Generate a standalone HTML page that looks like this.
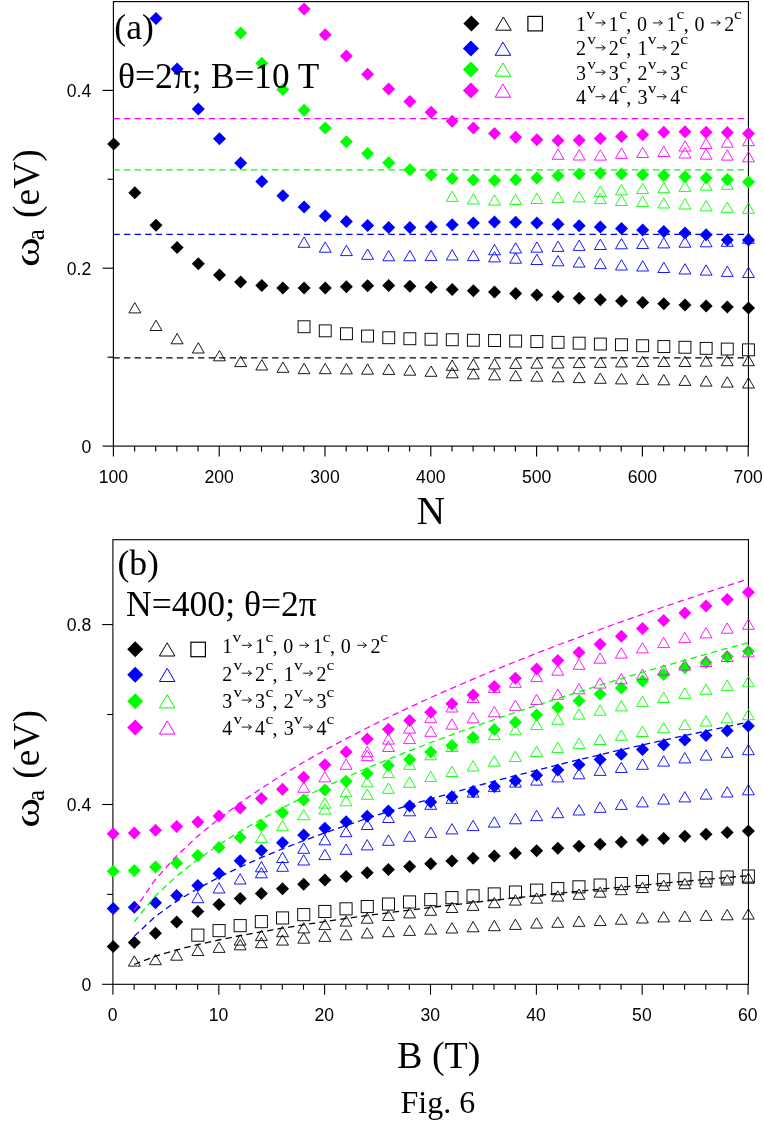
<!DOCTYPE html>
<html><head><meta charset="utf-8"><title>Fig. 6</title>
<style>html,body{margin:0;padding:0;background:#fff}svg{display:block;will-change:transform}text{fill:#000}</style>
</head><body>
<svg width="764" height="1121" viewBox="0 0 764 1121">
<rect width="764" height="1121" fill="#fff"/>
<defs><clipPath id="ca"><rect x="105.3" y="1.6" width="651.2" height="452.5"/></clipPath></defs>
<rect x="113.4" y="1.6" width="635.0500000000001" height="444.5" fill="none" stroke="#000" stroke-width="1.15"/>
<g clip-path="url(#ca)">
<path d="M113.7 137.4L120.2 143.9L113.7 150.4L107.2 143.9Z" fill="#000000"/>
<path d="M134.8 186.3L141.3 192.8L134.8 199.3L128.3 192.8Z" fill="#000000"/>
<path d="M156.0 218.8L162.5 225.3L156.0 231.8L149.5 225.3Z" fill="#000000"/>
<path d="M177.1 240.9L183.6 247.4L177.1 253.9L170.6 247.4Z" fill="#000000"/>
<path d="M198.3 257.3L204.8 263.8L198.3 270.3L191.8 263.8Z" fill="#000000"/>
<path d="M219.5 268.5L226.0 275.0L219.5 281.5L213.0 275.0Z" fill="#000000"/>
<path d="M240.6 275.6L247.1 282.1L240.6 288.6L234.1 282.1Z" fill="#000000"/>
<path d="M261.8 279.0L268.3 285.5L261.8 292.0L255.3 285.5Z" fill="#000000"/>
<path d="M282.9 281.6L289.4 288.1L282.9 294.6L276.4 288.1Z" fill="#000000"/>
<path d="M304.1 281.6L310.6 288.1L304.1 294.6L297.6 288.1Z" fill="#000000"/>
<path d="M325.2 281.6L331.8 288.1L325.2 294.6L318.8 288.1Z" fill="#000000"/>
<path d="M346.4 280.3L352.9 286.8L346.4 293.3L339.9 286.8Z" fill="#000000"/>
<path d="M367.6 279.2L374.1 285.7L367.6 292.2L361.1 285.7Z" fill="#000000"/>
<path d="M388.7 279.0L395.2 285.5L388.7 292.0L382.2 285.5Z" fill="#000000"/>
<path d="M409.9 279.8L416.4 286.3L409.9 292.8L403.4 286.3Z" fill="#000000"/>
<path d="M431.1 280.8L437.6 287.3L431.1 293.8L424.6 287.3Z" fill="#000000"/>
<path d="M452.2 282.9L458.7 289.4L452.2 295.9L445.7 289.4Z" fill="#000000"/>
<path d="M473.4 284.2L479.9 290.7L473.4 297.2L466.9 290.7Z" fill="#000000"/>
<path d="M494.5 285.5L501.0 292.0L494.5 298.5L488.0 292.0Z" fill="#000000"/>
<path d="M515.7 287.1L522.2 293.6L515.7 300.1L509.2 293.6Z" fill="#000000"/>
<path d="M536.9 288.4L543.4 294.9L536.9 301.4L530.4 294.9Z" fill="#000000"/>
<path d="M558.0 290.2L564.5 296.7L558.0 303.2L551.5 296.7Z" fill="#000000"/>
<path d="M579.2 291.8L585.7 298.3L579.2 304.8L572.7 298.3Z" fill="#000000"/>
<path d="M600.3 293.3L606.8 299.8L600.3 306.3L593.8 299.8Z" fill="#000000"/>
<path d="M621.5 294.6L628.0 301.1L621.5 307.6L615.0 301.1Z" fill="#000000"/>
<path d="M642.7 295.9L649.2 302.4L642.7 308.9L636.2 302.4Z" fill="#000000"/>
<path d="M663.8 297.3L670.3 303.8L663.8 310.3L657.3 303.8Z" fill="#000000"/>
<path d="M685.0 298.6L691.5 305.1L685.0 311.6L678.5 305.1Z" fill="#000000"/>
<path d="M706.1 299.5L712.6 306.0L706.1 312.5L699.6 306.0Z" fill="#000000"/>
<path d="M727.3 300.6L733.8 307.1L727.3 313.6L720.8 307.1Z" fill="#000000"/>
<path d="M748.5 301.6L755.0 308.1L748.5 314.6L742.0 308.1Z" fill="#000000"/>
<path d="M134.8 302.6L140.8 312.9L128.9 312.9Z" fill="none" stroke="#000000" stroke-width="0.9"/>
<path d="M156.0 320.2L161.9 330.5L150.0 330.5Z" fill="none" stroke="#000000" stroke-width="0.9"/>
<path d="M177.1 333.5L183.1 343.8L171.2 343.8Z" fill="none" stroke="#000000" stroke-width="0.9"/>
<path d="M198.3 342.7L204.2 353.0L192.3 353.0Z" fill="none" stroke="#000000" stroke-width="0.9"/>
<path d="M219.5 350.5L225.4 360.8L213.5 360.8Z" fill="none" stroke="#000000" stroke-width="0.9"/>
<path d="M240.6 356.3L246.6 366.6L234.7 366.6Z" fill="none" stroke="#000000" stroke-width="0.9"/>
<path d="M261.8 359.7L267.7 370.0L255.8 370.0Z" fill="none" stroke="#000000" stroke-width="0.9"/>
<path d="M282.9 362.0L288.9 372.3L277.0 372.3Z" fill="none" stroke="#000000" stroke-width="0.9"/>
<path d="M304.1 363.4L310.0 373.7L298.1 373.7Z" fill="none" stroke="#000000" stroke-width="0.9"/>
<path d="M325.2 363.4L331.2 373.7L319.3 373.7Z" fill="none" stroke="#000000" stroke-width="0.9"/>
<path d="M346.4 363.6L352.4 373.9L340.5 373.9Z" fill="none" stroke="#000000" stroke-width="0.9"/>
<path d="M367.6 363.9L373.5 374.2L361.6 374.2Z" fill="none" stroke="#000000" stroke-width="0.9"/>
<path d="M388.7 364.1L394.7 374.4L382.8 374.4Z" fill="none" stroke="#000000" stroke-width="0.9"/>
<path d="M409.9 364.9L415.8 375.2L403.9 375.2Z" fill="none" stroke="#000000" stroke-width="0.9"/>
<path d="M431.1 366.0L437.0 376.3L425.1 376.3Z" fill="none" stroke="#000000" stroke-width="0.9"/>
<path d="M452.2 367.5L458.2 377.8L446.3 377.8Z" fill="none" stroke="#000000" stroke-width="0.9"/>
<path d="M473.4 368.6L479.3 378.9L467.4 378.9Z" fill="none" stroke="#000000" stroke-width="0.9"/>
<path d="M494.5 369.6L500.5 379.9L488.6 379.9Z" fill="none" stroke="#000000" stroke-width="0.9"/>
<path d="M515.7 370.4L521.6 380.7L509.7 380.7Z" fill="none" stroke="#000000" stroke-width="0.9"/>
<path d="M536.9 370.9L542.8 381.2L530.9 381.2Z" fill="none" stroke="#000000" stroke-width="0.9"/>
<path d="M558.0 371.5L564.0 381.8L552.1 381.8Z" fill="none" stroke="#000000" stroke-width="0.9"/>
<path d="M579.2 372.3L585.1 382.6L573.2 382.6Z" fill="none" stroke="#000000" stroke-width="0.9"/>
<path d="M600.3 373.0L606.3 383.3L594.4 383.3Z" fill="none" stroke="#000000" stroke-width="0.9"/>
<path d="M621.5 373.6L627.4 383.9L615.5 383.9Z" fill="none" stroke="#000000" stroke-width="0.9"/>
<path d="M642.7 374.1L648.6 384.4L636.7 384.4Z" fill="none" stroke="#000000" stroke-width="0.9"/>
<path d="M663.8 374.5L669.8 384.8L657.9 384.8Z" fill="none" stroke="#000000" stroke-width="0.9"/>
<path d="M685.0 375.1L690.9 385.4L679.0 385.4Z" fill="none" stroke="#000000" stroke-width="0.9"/>
<path d="M706.1 375.8L712.1 386.1L700.2 386.1Z" fill="none" stroke="#000000" stroke-width="0.9"/>
<path d="M727.3 376.8L733.2 387.1L721.3 387.1Z" fill="none" stroke="#000000" stroke-width="0.9"/>
<path d="M748.5 377.7L754.4 388.0L742.5 388.0Z" fill="none" stroke="#000000" stroke-width="0.9"/>
<path d="M452.2 360.0L458.2 370.3L446.3 370.3Z" fill="none" stroke="#000000" stroke-width="0.9"/>
<path d="M473.4 359.0L479.3 369.3L467.4 369.3Z" fill="none" stroke="#000000" stroke-width="0.9"/>
<path d="M494.5 358.6L500.5 368.9L488.6 368.9Z" fill="none" stroke="#000000" stroke-width="0.9"/>
<path d="M515.7 358.1L521.6 368.4L509.7 368.4Z" fill="none" stroke="#000000" stroke-width="0.9"/>
<path d="M536.9 357.9L542.8 368.2L530.9 368.2Z" fill="none" stroke="#000000" stroke-width="0.9"/>
<path d="M558.0 357.6L564.0 367.9L552.1 367.9Z" fill="none" stroke="#000000" stroke-width="0.9"/>
<path d="M579.2 357.3L585.1 367.6L573.2 367.6Z" fill="none" stroke="#000000" stroke-width="0.9"/>
<path d="M600.3 357.1L606.3 367.4L594.4 367.4Z" fill="none" stroke="#000000" stroke-width="0.9"/>
<path d="M621.5 356.6L627.4 366.9L615.5 366.9Z" fill="none" stroke="#000000" stroke-width="0.9"/>
<path d="M642.7 356.2L648.6 366.5L636.7 366.5Z" fill="none" stroke="#000000" stroke-width="0.9"/>
<path d="M663.8 356.2L669.8 366.5L657.9 366.5Z" fill="none" stroke="#000000" stroke-width="0.9"/>
<path d="M685.0 356.2L690.9 366.5L679.0 366.5Z" fill="none" stroke="#000000" stroke-width="0.9"/>
<path d="M706.1 355.8L712.1 366.1L700.2 366.1Z" fill="none" stroke="#000000" stroke-width="0.9"/>
<path d="M727.3 355.4L733.2 365.7L721.3 365.7Z" fill="none" stroke="#000000" stroke-width="0.9"/>
<path d="M748.5 355.4L754.4 365.7L742.5 365.7Z" fill="none" stroke="#000000" stroke-width="0.9"/>
<rect x="298.1" y="320.8" width="11.9" height="11.9" fill="none" stroke="#000000" stroke-width="0.95"/>
<rect x="319.3" y="324.9" width="11.9" height="11.9" fill="none" stroke="#000000" stroke-width="0.95"/>
<rect x="340.5" y="327.8" width="11.9" height="11.9" fill="none" stroke="#000000" stroke-width="0.95"/>
<rect x="361.6" y="330.1" width="11.9" height="11.9" fill="none" stroke="#000000" stroke-width="0.95"/>
<rect x="382.8" y="331.8" width="11.9" height="11.9" fill="none" stroke="#000000" stroke-width="0.95"/>
<rect x="403.9" y="332.8" width="11.9" height="11.9" fill="none" stroke="#000000" stroke-width="0.95"/>
<rect x="425.1" y="333.3" width="11.9" height="11.9" fill="none" stroke="#000000" stroke-width="0.95"/>
<rect x="446.3" y="333.8" width="11.9" height="11.9" fill="none" stroke="#000000" stroke-width="0.95"/>
<rect x="467.4" y="334.3" width="11.9" height="11.9" fill="none" stroke="#000000" stroke-width="0.95"/>
<rect x="488.6" y="334.6" width="11.9" height="11.9" fill="none" stroke="#000000" stroke-width="0.95"/>
<rect x="509.7" y="335.1" width="11.9" height="11.9" fill="none" stroke="#000000" stroke-width="0.95"/>
<rect x="530.9" y="335.6" width="11.9" height="11.9" fill="none" stroke="#000000" stroke-width="0.95"/>
<rect x="552.1" y="336.4" width="11.9" height="11.9" fill="none" stroke="#000000" stroke-width="0.95"/>
<rect x="573.2" y="337.2" width="11.9" height="11.9" fill="none" stroke="#000000" stroke-width="0.95"/>
<rect x="594.4" y="338.1" width="11.9" height="11.9" fill="none" stroke="#000000" stroke-width="0.95"/>
<rect x="615.5" y="338.8" width="11.9" height="11.9" fill="none" stroke="#000000" stroke-width="0.95"/>
<rect x="636.7" y="339.8" width="11.9" height="11.9" fill="none" stroke="#000000" stroke-width="0.95"/>
<rect x="657.9" y="340.6" width="11.9" height="11.9" fill="none" stroke="#000000" stroke-width="0.95"/>
<rect x="679.0" y="341.3" width="11.9" height="11.9" fill="none" stroke="#000000" stroke-width="0.95"/>
<rect x="700.2" y="342.4" width="11.9" height="11.9" fill="none" stroke="#000000" stroke-width="0.95"/>
<rect x="721.3" y="343.1" width="11.9" height="11.9" fill="none" stroke="#000000" stroke-width="0.95"/>
<rect x="742.5" y="343.9" width="11.9" height="11.9" fill="none" stroke="#000000" stroke-width="0.95"/>
<path d="M156.0 12.0L162.5 18.5L156.0 25.0L149.5 18.5Z" fill="#0000ff"/>
<path d="M177.1 62.4L183.6 68.9L177.1 75.4L170.6 68.9Z" fill="#0000ff"/>
<path d="M198.3 102.4L204.8 108.9L198.3 115.4L191.8 108.9Z" fill="#0000ff"/>
<path d="M219.5 132.3L226.0 138.8L219.5 145.3L213.0 138.8Z" fill="#0000ff"/>
<path d="M240.6 156.5L247.1 163.0L240.6 169.5L234.1 163.0Z" fill="#0000ff"/>
<path d="M261.8 175.1L268.3 181.6L261.8 188.1L255.3 181.6Z" fill="#0000ff"/>
<path d="M282.9 189.2L289.4 195.7L282.9 202.2L276.4 195.7Z" fill="#0000ff"/>
<path d="M304.1 200.4L310.6 206.9L304.1 213.4L297.6 206.9Z" fill="#0000ff"/>
<path d="M325.2 209.4L331.8 215.9L325.2 222.4L318.8 215.9Z" fill="#0000ff"/>
<path d="M346.4 215.1L352.9 221.6L346.4 228.1L339.9 221.6Z" fill="#0000ff"/>
<path d="M367.6 218.9L374.1 225.4L367.6 231.9L361.1 225.4Z" fill="#0000ff"/>
<path d="M388.7 221.0L395.2 227.5L388.7 234.0L382.2 227.5Z" fill="#0000ff"/>
<path d="M409.9 221.0L416.4 227.5L409.9 234.0L403.4 227.5Z" fill="#0000ff"/>
<path d="M431.1 220.2L437.6 226.7L431.1 233.2L424.6 226.7Z" fill="#0000ff"/>
<path d="M452.2 218.3L458.7 224.8L452.2 231.3L445.7 224.8Z" fill="#0000ff"/>
<path d="M473.4 216.6L479.9 223.1L473.4 229.6L466.9 223.1Z" fill="#0000ff"/>
<path d="M494.5 215.4L501.0 221.9L494.5 228.4L488.0 221.9Z" fill="#0000ff"/>
<path d="M515.7 215.7L522.2 222.2L515.7 228.7L509.2 222.2Z" fill="#0000ff"/>
<path d="M536.9 216.6L543.4 223.1L536.9 229.6L530.4 223.1Z" fill="#0000ff"/>
<path d="M558.0 217.8L564.5 224.3L558.0 230.8L551.5 224.3Z" fill="#0000ff"/>
<path d="M579.2 219.2L585.7 225.7L579.2 232.2L572.7 225.7Z" fill="#0000ff"/>
<path d="M600.3 220.5L606.8 227.0L600.3 233.5L593.8 227.0Z" fill="#0000ff"/>
<path d="M621.5 222.0L628.0 228.5L621.5 235.0L615.0 228.5Z" fill="#0000ff"/>
<path d="M642.7 223.6L649.2 230.1L642.7 236.6L636.2 230.1Z" fill="#0000ff"/>
<path d="M663.8 225.1L670.3 231.6L663.8 238.1L657.3 231.6Z" fill="#0000ff"/>
<path d="M685.0 226.5L691.5 233.0L685.0 239.5L678.5 233.0Z" fill="#0000ff"/>
<path d="M706.1 228.3L712.6 234.8L706.1 241.3L699.6 234.8Z" fill="#0000ff"/>
<path d="M727.3 233.5L733.8 240.0L727.3 246.5L720.8 240.0Z" fill="#0000ff"/>
<path d="M748.5 233.4L755.0 239.9L748.5 246.4L742.0 239.9Z" fill="#0000ff"/>
<path d="M304.1 237.0L310.0 247.3L298.1 247.3Z" fill="none" stroke="#0000ff" stroke-width="0.9"/>
<path d="M325.2 241.9L331.2 252.2L319.3 252.2Z" fill="none" stroke="#0000ff" stroke-width="0.9"/>
<path d="M346.4 245.3L352.4 255.6L340.5 255.6Z" fill="none" stroke="#0000ff" stroke-width="0.9"/>
<path d="M367.6 249.0L373.5 259.3L361.6 259.3Z" fill="none" stroke="#0000ff" stroke-width="0.9"/>
<path d="M388.7 250.5L394.7 260.8L382.8 260.8Z" fill="none" stroke="#0000ff" stroke-width="0.9"/>
<path d="M409.9 250.5L415.8 260.8L403.9 260.8Z" fill="none" stroke="#0000ff" stroke-width="0.9"/>
<path d="M431.1 250.3L437.0 260.6L425.1 260.6Z" fill="none" stroke="#0000ff" stroke-width="0.9"/>
<path d="M452.2 249.7L458.2 260.0L446.3 260.0Z" fill="none" stroke="#0000ff" stroke-width="0.9"/>
<path d="M473.4 250.3L479.3 260.6L467.4 260.6Z" fill="none" stroke="#0000ff" stroke-width="0.9"/>
<path d="M494.5 251.6L500.5 261.9L488.6 261.9Z" fill="none" stroke="#0000ff" stroke-width="0.9"/>
<path d="M515.7 252.9L521.6 263.2L509.7 263.2Z" fill="none" stroke="#0000ff" stroke-width="0.9"/>
<path d="M536.9 254.2L542.8 264.5L530.9 264.5Z" fill="none" stroke="#0000ff" stroke-width="0.9"/>
<path d="M558.0 255.5L564.0 265.8L552.1 265.8Z" fill="none" stroke="#0000ff" stroke-width="0.9"/>
<path d="M579.2 256.8L585.1 267.1L573.2 267.1Z" fill="none" stroke="#0000ff" stroke-width="0.9"/>
<path d="M600.3 258.3L606.3 268.6L594.4 268.6Z" fill="none" stroke="#0000ff" stroke-width="0.9"/>
<path d="M621.5 259.7L627.4 270.0L615.5 270.0Z" fill="none" stroke="#0000ff" stroke-width="0.9"/>
<path d="M642.7 260.7L648.6 271.0L636.7 271.0Z" fill="none" stroke="#0000ff" stroke-width="0.9"/>
<path d="M663.8 262.2L669.8 272.5L657.9 272.5Z" fill="none" stroke="#0000ff" stroke-width="0.9"/>
<path d="M685.0 263.7L690.9 274.0L679.0 274.0Z" fill="none" stroke="#0000ff" stroke-width="0.9"/>
<path d="M706.1 264.8L712.1 275.1L700.2 275.1Z" fill="none" stroke="#0000ff" stroke-width="0.9"/>
<path d="M727.3 266.1L733.2 276.4L721.3 276.4Z" fill="none" stroke="#0000ff" stroke-width="0.9"/>
<path d="M748.5 267.2L754.4 277.5L742.5 277.5Z" fill="none" stroke="#0000ff" stroke-width="0.9"/>
<path d="M494.5 244.5L500.5 254.8L488.6 254.8Z" fill="none" stroke="#0000ff" stroke-width="0.9"/>
<path d="M515.7 242.7L521.6 253.0L509.7 253.0Z" fill="none" stroke="#0000ff" stroke-width="0.9"/>
<path d="M536.9 241.9L542.8 252.2L530.9 252.2Z" fill="none" stroke="#0000ff" stroke-width="0.9"/>
<path d="M558.0 241.1L564.0 251.4L552.1 251.4Z" fill="none" stroke="#0000ff" stroke-width="0.9"/>
<path d="M579.2 240.1L585.1 250.4L573.2 250.4Z" fill="none" stroke="#0000ff" stroke-width="0.9"/>
<path d="M600.3 239.2L606.3 249.5L594.4 249.5Z" fill="none" stroke="#0000ff" stroke-width="0.9"/>
<path d="M621.5 238.5L627.4 248.8L615.5 248.8Z" fill="none" stroke="#0000ff" stroke-width="0.9"/>
<path d="M642.7 238.2L648.6 248.5L636.7 248.5Z" fill="none" stroke="#0000ff" stroke-width="0.9"/>
<path d="M663.8 237.6L669.8 247.9L657.9 247.9Z" fill="none" stroke="#0000ff" stroke-width="0.9"/>
<path d="M685.0 236.9L690.9 247.2L679.0 247.2Z" fill="none" stroke="#0000ff" stroke-width="0.9"/>
<path d="M706.1 236.5L712.1 246.8L700.2 246.8Z" fill="none" stroke="#0000ff" stroke-width="0.9"/>
<path d="M727.3 236.0L733.2 246.3L721.3 246.3Z" fill="none" stroke="#0000ff" stroke-width="0.9"/>
<path d="M748.5 233.0L754.4 243.3L742.5 243.3Z" fill="none" stroke="#0000ff" stroke-width="0.9"/>
<path d="M240.6 26.4L247.1 32.9L240.6 39.4L234.1 32.9Z" fill="#00ff00"/>
<path d="M261.8 56.7L268.3 63.2L261.8 69.7L255.3 63.2Z" fill="#00ff00"/>
<path d="M282.9 82.9L289.4 89.4L282.9 95.9L276.4 89.4Z" fill="#00ff00"/>
<path d="M304.1 103.7L310.6 110.2L304.1 116.7L297.6 110.2Z" fill="#00ff00"/>
<path d="M325.2 121.5L331.8 128.0L325.2 134.5L318.8 128.0Z" fill="#00ff00"/>
<path d="M346.4 135.3L352.9 141.8L346.4 148.3L339.9 141.8Z" fill="#00ff00"/>
<path d="M367.6 147.0L374.1 153.5L367.6 160.0L361.1 153.5Z" fill="#00ff00"/>
<path d="M388.7 156.2L395.2 162.7L388.7 169.2L382.2 162.7Z" fill="#00ff00"/>
<path d="M409.9 163.3L416.4 169.8L409.9 176.3L403.4 169.8Z" fill="#00ff00"/>
<path d="M431.1 168.5L437.6 175.0L431.1 181.5L424.6 175.0Z" fill="#00ff00"/>
<path d="M452.2 171.9L458.7 178.4L452.2 184.9L445.7 178.4Z" fill="#00ff00"/>
<path d="M473.4 173.5L479.9 180.0L473.4 186.5L466.9 180.0Z" fill="#00ff00"/>
<path d="M494.5 174.0L501.0 180.5L494.5 187.0L488.0 180.5Z" fill="#00ff00"/>
<path d="M515.7 173.2L522.2 179.7L515.7 186.2L509.2 179.7Z" fill="#00ff00"/>
<path d="M536.9 171.4L543.4 177.9L536.9 184.4L530.4 177.9Z" fill="#00ff00"/>
<path d="M558.0 169.3L564.5 175.8L558.0 182.3L551.5 175.8Z" fill="#00ff00"/>
<path d="M579.2 167.5L585.7 174.0L579.2 180.5L572.7 174.0Z" fill="#00ff00"/>
<path d="M600.3 166.8L606.8 173.3L600.3 179.8L593.8 173.3Z" fill="#00ff00"/>
<path d="M621.5 167.5L628.0 174.0L621.5 180.5L615.0 174.0Z" fill="#00ff00"/>
<path d="M642.7 168.2L649.2 174.7L642.7 181.2L636.2 174.7Z" fill="#00ff00"/>
<path d="M663.8 169.0L670.3 175.5L663.8 182.0L657.3 175.5Z" fill="#00ff00"/>
<path d="M685.0 170.3L691.5 176.8L685.0 183.3L678.5 176.8Z" fill="#00ff00"/>
<path d="M706.1 171.6L712.6 178.1L706.1 184.6L699.6 178.1Z" fill="#00ff00"/>
<path d="M727.3 172.9L733.8 179.4L727.3 185.9L720.8 179.4Z" fill="#00ff00"/>
<path d="M748.5 175.5L755.0 182.0L748.5 188.5L742.0 182.0Z" fill="#00ff00"/>
<path d="M452.2 191.1L458.2 201.4L446.3 201.4Z" fill="none" stroke="#00ff00" stroke-width="0.9"/>
<path d="M473.4 193.7L479.3 204.0L467.4 204.0Z" fill="none" stroke="#00ff00" stroke-width="0.9"/>
<path d="M494.5 194.8L500.5 205.1L488.6 205.1Z" fill="none" stroke="#00ff00" stroke-width="0.9"/>
<path d="M515.7 194.2L521.6 204.5L509.7 204.5Z" fill="none" stroke="#00ff00" stroke-width="0.9"/>
<path d="M536.9 193.2L542.8 203.5L530.9 203.5Z" fill="none" stroke="#00ff00" stroke-width="0.9"/>
<path d="M558.0 192.1L564.0 202.4L552.1 202.4Z" fill="none" stroke="#00ff00" stroke-width="0.9"/>
<path d="M579.2 191.6L585.1 201.9L573.2 201.9Z" fill="none" stroke="#00ff00" stroke-width="0.9"/>
<path d="M600.3 193.3L606.3 203.6L594.4 203.6Z" fill="none" stroke="#00ff00" stroke-width="0.9"/>
<path d="M621.5 195.2L627.4 205.5L615.5 205.5Z" fill="none" stroke="#00ff00" stroke-width="0.9"/>
<path d="M642.7 196.2L648.6 206.5L636.7 206.5Z" fill="none" stroke="#00ff00" stroke-width="0.9"/>
<path d="M663.8 197.7L669.8 208.0L657.9 208.0Z" fill="none" stroke="#00ff00" stroke-width="0.9"/>
<path d="M685.0 198.7L690.9 209.0L679.0 209.0Z" fill="none" stroke="#00ff00" stroke-width="0.9"/>
<path d="M706.1 200.5L712.1 210.8L700.2 210.8Z" fill="none" stroke="#00ff00" stroke-width="0.9"/>
<path d="M727.3 202.0L733.2 212.3L721.3 212.3Z" fill="none" stroke="#00ff00" stroke-width="0.9"/>
<path d="M748.5 203.0L754.4 213.3L742.5 213.3Z" fill="none" stroke="#00ff00" stroke-width="0.9"/>
<path d="M600.3 186.1L606.3 196.4L594.4 196.4Z" fill="none" stroke="#00ff00" stroke-width="0.9"/>
<path d="M621.5 184.6L627.4 194.9L615.5 194.9Z" fill="none" stroke="#00ff00" stroke-width="0.9"/>
<path d="M642.7 183.3L648.6 193.6L636.7 193.6Z" fill="none" stroke="#00ff00" stroke-width="0.9"/>
<path d="M663.8 182.4L669.8 192.7L657.9 192.7Z" fill="none" stroke="#00ff00" stroke-width="0.9"/>
<path d="M685.0 181.1L690.9 191.4L679.0 191.4Z" fill="none" stroke="#00ff00" stroke-width="0.9"/>
<path d="M706.1 179.9L712.1 190.2L700.2 190.2Z" fill="none" stroke="#00ff00" stroke-width="0.9"/>
<path d="M727.3 179.0L733.2 189.3L721.3 189.3Z" fill="none" stroke="#00ff00" stroke-width="0.9"/>
<path d="M304.1 2.5L310.6 9.0L304.1 15.5L297.6 9.0Z" fill="#ff00ff"/>
<path d="M325.2 28.2L331.8 34.7L325.2 41.2L318.8 34.7Z" fill="#ff00ff"/>
<path d="M346.4 49.4L352.9 55.9L346.4 62.4L339.9 55.9Z" fill="#ff00ff"/>
<path d="M367.6 67.7L374.1 74.2L367.6 80.7L361.1 74.2Z" fill="#ff00ff"/>
<path d="M388.7 82.4L395.2 88.9L388.7 95.4L382.2 88.9Z" fill="#ff00ff"/>
<path d="M409.9 94.9L416.4 101.4L409.9 107.9L403.4 101.4Z" fill="#ff00ff"/>
<path d="M431.1 105.7L437.6 112.2L431.1 118.7L424.6 112.2Z" fill="#ff00ff"/>
<path d="M452.2 114.8L458.7 121.3L452.2 127.8L445.7 121.3Z" fill="#ff00ff"/>
<path d="M473.4 121.5L479.9 128.0L473.4 134.5L466.9 128.0Z" fill="#ff00ff"/>
<path d="M494.5 127.1L501.0 133.6L494.5 140.1L488.0 133.6Z" fill="#ff00ff"/>
<path d="M515.7 130.8L522.2 137.3L515.7 143.8L509.2 137.3Z" fill="#ff00ff"/>
<path d="M536.9 133.2L543.4 139.7L536.9 146.2L530.4 139.7Z" fill="#ff00ff"/>
<path d="M558.0 134.0L564.5 140.5L558.0 147.0L551.5 140.5Z" fill="#ff00ff"/>
<path d="M579.2 133.7L585.7 140.2L579.2 146.7L572.7 140.2Z" fill="#ff00ff"/>
<path d="M600.3 132.1L606.8 138.6L600.3 145.1L593.8 138.6Z" fill="#ff00ff"/>
<path d="M621.5 129.9L628.0 136.4L621.5 142.9L615.0 136.4Z" fill="#ff00ff"/>
<path d="M642.7 128.2L649.2 134.7L642.7 141.2L636.2 134.7Z" fill="#ff00ff"/>
<path d="M663.8 125.7L670.3 132.2L663.8 138.7L657.3 132.2Z" fill="#ff00ff"/>
<path d="M685.0 125.2L691.5 131.7L685.0 138.2L678.5 131.7Z" fill="#ff00ff"/>
<path d="M706.1 125.7L712.6 132.2L706.1 138.7L699.6 132.2Z" fill="#ff00ff"/>
<path d="M727.3 126.1L733.8 132.6L727.3 139.1L720.8 132.6Z" fill="#ff00ff"/>
<path d="M748.5 127.0L755.0 133.5L748.5 140.0L742.0 133.5Z" fill="#ff00ff"/>
<path d="M558.0 149.0L564.0 159.3L552.1 159.3Z" fill="none" stroke="#ff00ff" stroke-width="0.9"/>
<path d="M579.2 149.7L585.1 160.0L573.2 160.0Z" fill="none" stroke="#ff00ff" stroke-width="0.9"/>
<path d="M600.3 149.8L606.3 160.1L594.4 160.1Z" fill="none" stroke="#ff00ff" stroke-width="0.9"/>
<path d="M621.5 148.1L627.4 158.4L615.5 158.4Z" fill="none" stroke="#ff00ff" stroke-width="0.9"/>
<path d="M642.7 147.2L648.6 157.5L636.7 157.5Z" fill="none" stroke="#ff00ff" stroke-width="0.9"/>
<path d="M663.8 146.2L669.8 156.5L657.9 156.5Z" fill="none" stroke="#ff00ff" stroke-width="0.9"/>
<path d="M685.0 147.7L690.9 158.0L679.0 158.0Z" fill="none" stroke="#ff00ff" stroke-width="0.9"/>
<path d="M706.1 148.9L712.1 159.2L700.2 159.2Z" fill="none" stroke="#ff00ff" stroke-width="0.9"/>
<path d="M727.3 149.8L733.2 160.1L721.3 160.1Z" fill="none" stroke="#ff00ff" stroke-width="0.9"/>
<path d="M748.5 151.5L754.4 161.8L742.5 161.8Z" fill="none" stroke="#ff00ff" stroke-width="0.9"/>
<path d="M685.0 140.8L690.9 151.1L679.0 151.1Z" fill="none" stroke="#ff00ff" stroke-width="0.9"/>
<path d="M706.1 138.2L712.1 148.5L700.2 148.5Z" fill="none" stroke="#ff00ff" stroke-width="0.9"/>
<path d="M727.3 136.9L733.2 147.2L721.3 147.2Z" fill="none" stroke="#ff00ff" stroke-width="0.9"/>
<path d="M748.5 135.4L754.4 145.7L742.5 145.7Z" fill="none" stroke="#ff00ff" stroke-width="0.9"/>
</g>
<line x1="113.4" y1="118.6" x2="748.2" y2="118.6" stroke="#ff00ff" stroke-width="1.3" stroke-dasharray="6.4 4.18"/>
<line x1="113.4" y1="169.9" x2="748.2" y2="169.9" stroke="#00ff00" stroke-width="1.3" stroke-dasharray="6.4 4.18"/>
<line x1="113.4" y1="234.3" x2="748.2" y2="234.3" stroke="#0000ff" stroke-width="1.3" stroke-dasharray="6.4 4.18"/>
<line x1="113.4" y1="357.9" x2="748.2" y2="357.9" stroke="#000000" stroke-width="1.3" stroke-dasharray="6.4 4.18"/>
<line x1="113.4" y1="446.1" x2="113.4" y2="456.6" stroke="#000" stroke-width="1.15"/>
<line x1="134.6" y1="446.1" x2="134.6" y2="451.6" stroke="#000" stroke-width="1.15"/>
<line x1="155.7" y1="446.1" x2="155.7" y2="451.6" stroke="#000" stroke-width="1.15"/>
<line x1="176.9" y1="446.1" x2="176.9" y2="451.6" stroke="#000" stroke-width="1.15"/>
<line x1="198.0" y1="446.1" x2="198.0" y2="451.6" stroke="#000" stroke-width="1.15"/>
<line x1="219.2" y1="446.1" x2="219.2" y2="456.6" stroke="#000" stroke-width="1.15"/>
<line x1="240.4" y1="446.1" x2="240.4" y2="451.6" stroke="#000" stroke-width="1.15"/>
<line x1="261.5" y1="446.1" x2="261.5" y2="451.6" stroke="#000" stroke-width="1.15"/>
<line x1="282.7" y1="446.1" x2="282.7" y2="451.6" stroke="#000" stroke-width="1.15"/>
<line x1="303.8" y1="446.1" x2="303.8" y2="451.6" stroke="#000" stroke-width="1.15"/>
<line x1="325.0" y1="446.1" x2="325.0" y2="456.6" stroke="#000" stroke-width="1.15"/>
<line x1="346.2" y1="446.1" x2="346.2" y2="451.6" stroke="#000" stroke-width="1.15"/>
<line x1="367.3" y1="446.1" x2="367.3" y2="451.6" stroke="#000" stroke-width="1.15"/>
<line x1="388.5" y1="446.1" x2="388.5" y2="451.6" stroke="#000" stroke-width="1.15"/>
<line x1="409.6" y1="446.1" x2="409.6" y2="451.6" stroke="#000" stroke-width="1.15"/>
<line x1="430.8" y1="446.1" x2="430.8" y2="456.6" stroke="#000" stroke-width="1.15"/>
<line x1="452.0" y1="446.1" x2="452.0" y2="451.6" stroke="#000" stroke-width="1.15"/>
<line x1="473.1" y1="446.1" x2="473.1" y2="451.6" stroke="#000" stroke-width="1.15"/>
<line x1="494.3" y1="446.1" x2="494.3" y2="451.6" stroke="#000" stroke-width="1.15"/>
<line x1="515.4" y1="446.1" x2="515.4" y2="451.6" stroke="#000" stroke-width="1.15"/>
<line x1="536.6" y1="446.1" x2="536.6" y2="456.6" stroke="#000" stroke-width="1.15"/>
<line x1="557.8" y1="446.1" x2="557.8" y2="451.6" stroke="#000" stroke-width="1.15"/>
<line x1="578.9" y1="446.1" x2="578.9" y2="451.6" stroke="#000" stroke-width="1.15"/>
<line x1="600.1" y1="446.1" x2="600.1" y2="451.6" stroke="#000" stroke-width="1.15"/>
<line x1="621.2" y1="446.1" x2="621.2" y2="451.6" stroke="#000" stroke-width="1.15"/>
<line x1="642.4" y1="446.1" x2="642.4" y2="456.6" stroke="#000" stroke-width="1.15"/>
<line x1="663.6" y1="446.1" x2="663.6" y2="451.6" stroke="#000" stroke-width="1.15"/>
<line x1="684.7" y1="446.1" x2="684.7" y2="451.6" stroke="#000" stroke-width="1.15"/>
<line x1="705.9" y1="446.1" x2="705.9" y2="451.6" stroke="#000" stroke-width="1.15"/>
<line x1="727.0" y1="446.1" x2="727.0" y2="451.6" stroke="#000" stroke-width="1.15"/>
<line x1="748.2" y1="446.1" x2="748.2" y2="456.6" stroke="#000" stroke-width="1.15"/>
<line x1="102.60000000000001" y1="446.1" x2="113.4" y2="446.1" stroke="#000" stroke-width="1.15"/>
<line x1="107.60000000000001" y1="357.2" x2="113.4" y2="357.2" stroke="#000" stroke-width="1.15"/>
<line x1="102.60000000000001" y1="268.2" x2="113.4" y2="268.2" stroke="#000" stroke-width="1.15"/>
<line x1="107.60000000000001" y1="179.3" x2="113.4" y2="179.3" stroke="#000" stroke-width="1.15"/>
<line x1="102.60000000000001" y1="90.4" x2="113.4" y2="90.4" stroke="#000" stroke-width="1.15"/>
<text x="113.4" y="483.4" text-anchor="middle" font-family="Liberation Sans, sans-serif" font-size="17.6">100</text>
<text x="219.2" y="483.4" text-anchor="middle" font-family="Liberation Sans, sans-serif" font-size="17.6">200</text>
<text x="325.0" y="483.4" text-anchor="middle" font-family="Liberation Sans, sans-serif" font-size="17.6">300</text>
<text x="430.8" y="483.4" text-anchor="middle" font-family="Liberation Sans, sans-serif" font-size="17.6">400</text>
<text x="536.6" y="483.4" text-anchor="middle" font-family="Liberation Sans, sans-serif" font-size="17.6">500</text>
<text x="642.4" y="483.4" text-anchor="middle" font-family="Liberation Sans, sans-serif" font-size="17.6">600</text>
<text x="748.2" y="483.4" text-anchor="middle" font-family="Liberation Sans, sans-serif" font-size="17.6">700</text>
<text x="91.3" y="452.7" text-anchor="end" font-family="Liberation Sans, sans-serif" font-size="17.6">0</text>
<text x="91.3" y="274.8" text-anchor="end" font-family="Liberation Sans, sans-serif" font-size="17.6">0.2</text>
<text x="91.3" y="97.0" text-anchor="end" font-family="Liberation Sans, sans-serif" font-size="17.6">0.4</text>
<text x="431" y="524" text-anchor="middle" font-family="Liberation Serif, serif" font-size="39.2">N</text>
<text x="114.3" y="38.7" font-family="Liberation Serif, serif" font-size="35.6">(a)</text>
<text x="117.9" y="88.1" font-family="Liberation Serif, serif" font-size="35.6">θ=2</text>
<text x="173.8" y="88.1" font-family="Liberation Serif, serif" font-size="35.6">π;</text>
<text x="211.0" y="88.1" font-family="Liberation Serif, serif" font-size="35.2">B=10 T</text>
<text transform="translate(39.4 267.0) rotate(-90) scale(1.29 1)" font-family="Liberation Serif, serif" font-size="35">ω</text>
<text transform="translate(43.6 240.2) rotate(-90)" font-family="Liberation Serif, serif" font-size="25">a</text>
<text transform="translate(39.3 218.0) rotate(-90)" font-family="Liberation Serif, serif" font-size="37.5">(eV)</text>
<path d="M471.4 15.5L479.4 23.5L471.4 31.5L463.4 23.5Z" fill="#000000"/>
<path d="M503.4 17.0L511.2 30.2L495.7 30.2Z" fill="none" stroke="#000000" stroke-width="1.0"/>
<path d="M470.9 40.6L478.9 48.6L470.9 56.6L462.9 48.6Z" fill="#0000ff"/>
<path d="M502.9 42.1L510.7 55.3L495.2 55.3Z" fill="none" stroke="#0000ff" stroke-width="1.0"/>
<path d="M470.9 61.5L478.9 69.5L470.9 77.5L462.9 69.5Z" fill="#00ff00"/>
<path d="M502.9 63.0L510.7 76.2L495.2 76.2Z" fill="none" stroke="#00ff00" stroke-width="1.0"/>
<path d="M470.9 82.5L478.9 90.5L470.9 98.5L462.9 90.5Z" fill="#ff00ff"/>
<path d="M502.9 84.0L510.7 97.2L495.2 97.2Z" fill="none" stroke="#ff00ff" stroke-width="1.0"/>
<rect x="527.9" y="16.4" width="14.5" height="14.5" fill="none" stroke="#000000" stroke-width="1.2"/>
<text x="575.9" y="30.5" font-family="Liberation Serif, serif" font-size="20" xml:space="preserve">1</text>
<text transform="translate(586.3 19.3) scale(1.22 1)" font-family="Liberation Serif, serif" font-size="14.3">v</text>
<path d="M595.5 22.9H604.7M601.7 20.3L605.3 22.9L601.7 25.5" fill="none" stroke="#000" stroke-width="0.9" stroke-linejoin="miter"/>
<text x="608.6" y="30.5" font-family="Liberation Serif, serif" font-size="20" xml:space="preserve">1</text>
<text transform="translate(619.2 19.3) scale(1.22 1)" font-family="Liberation Serif, serif" font-size="14.3">c</text>
<text x="626.3" y="30.5" font-family="Liberation Serif, serif" font-size="20" xml:space="preserve">,</text>
<text x="636.9" y="30.5" font-family="Liberation Serif, serif" font-size="20" xml:space="preserve">0</text>
<path d="M653.0 22.9H661.8M658.8 20.3L662.4 22.9L658.8 25.5" fill="none" stroke="#000" stroke-width="0.9" stroke-linejoin="miter"/>
<text x="666.5" y="30.5" font-family="Liberation Serif, serif" font-size="20" xml:space="preserve">1</text>
<text transform="translate(676.5 19.3) scale(1.22 1)" font-family="Liberation Serif, serif" font-size="14.3">c</text>
<text x="683.8" y="30.5" font-family="Liberation Serif, serif" font-size="20" xml:space="preserve">,</text>
<text x="694.4" y="30.5" font-family="Liberation Serif, serif" font-size="20" xml:space="preserve">0</text>
<path d="M710.9 22.9H719.7M716.7 20.3L720.3 22.9L716.7 25.5" fill="none" stroke="#000" stroke-width="0.9" stroke-linejoin="miter"/>
<text x="724.3" y="30.5" font-family="Liberation Serif, serif" font-size="20" xml:space="preserve">2</text>
<text transform="translate(734.0 19.3) scale(1.22 1)" font-family="Liberation Serif, serif" font-size="14.3">c</text>
<text x="575.9" y="55.4" font-family="Liberation Serif, serif" font-size="20" xml:space="preserve">2</text>
<text transform="translate(587.2 44.2) scale(1.22 1)" font-family="Liberation Serif, serif" font-size="14.3">v</text>
<path d="M595.5 47.8H604.7M601.7 45.2L605.3 47.8L601.7 50.4" fill="none" stroke="#000" stroke-width="0.9" stroke-linejoin="miter"/>
<text x="608.8" y="55.4" font-family="Liberation Serif, serif" font-size="20" xml:space="preserve">2</text>
<text transform="translate(619.2 44.2) scale(1.22 1)" font-family="Liberation Serif, serif" font-size="14.3">c</text>
<text x="626.3" y="55.4" font-family="Liberation Serif, serif" font-size="20" xml:space="preserve">,</text>
<text x="637.4" y="55.4" font-family="Liberation Serif, serif" font-size="20" xml:space="preserve">1</text>
<text transform="translate(647.8 44.2) scale(1.22 1)" font-family="Liberation Serif, serif" font-size="14.3">v</text>
<path d="M656.8 47.8H665.8M662.8 45.2L666.4 47.8L662.8 50.4" fill="none" stroke="#000" stroke-width="0.9" stroke-linejoin="miter"/>
<text x="670.2" y="55.4" font-family="Liberation Serif, serif" font-size="20" xml:space="preserve">2</text>
<text transform="translate(680.2 44.2) scale(1.22 1)" font-family="Liberation Serif, serif" font-size="14.3">c</text>
<text x="575.9" y="79.9" font-family="Liberation Serif, serif" font-size="20" xml:space="preserve">3</text>
<text transform="translate(587.2 68.7) scale(1.22 1)" font-family="Liberation Serif, serif" font-size="14.3">v</text>
<path d="M595.5 72.3H604.7M601.7 69.7L605.3 72.3L601.7 74.9" fill="none" stroke="#000" stroke-width="0.9" stroke-linejoin="miter"/>
<text x="608.8" y="79.9" font-family="Liberation Serif, serif" font-size="20" xml:space="preserve">3</text>
<text transform="translate(619.2 68.7) scale(1.22 1)" font-family="Liberation Serif, serif" font-size="14.3">c</text>
<text x="626.3" y="79.9" font-family="Liberation Serif, serif" font-size="20" xml:space="preserve">,</text>
<text x="637.4" y="79.9" font-family="Liberation Serif, serif" font-size="20" xml:space="preserve">2</text>
<text transform="translate(647.8 68.7) scale(1.22 1)" font-family="Liberation Serif, serif" font-size="14.3">v</text>
<path d="M656.8 72.3H665.8M662.8 69.7L666.4 72.3L662.8 74.9" fill="none" stroke="#000" stroke-width="0.9" stroke-linejoin="miter"/>
<text x="670.2" y="79.9" font-family="Liberation Serif, serif" font-size="20" xml:space="preserve">3</text>
<text transform="translate(680.2 68.7) scale(1.22 1)" font-family="Liberation Serif, serif" font-size="14.3">c</text>
<text x="575.9" y="104.3" font-family="Liberation Serif, serif" font-size="20" xml:space="preserve">4</text>
<text transform="translate(587.2 93.1) scale(1.22 1)" font-family="Liberation Serif, serif" font-size="14.3">v</text>
<path d="M595.5 96.7H604.7M601.7 94.1L605.3 96.7L601.7 99.3" fill="none" stroke="#000" stroke-width="0.9" stroke-linejoin="miter"/>
<text x="608.8" y="104.3" font-family="Liberation Serif, serif" font-size="20" xml:space="preserve">4</text>
<text transform="translate(619.2 93.1) scale(1.22 1)" font-family="Liberation Serif, serif" font-size="14.3">c</text>
<text x="626.3" y="104.3" font-family="Liberation Serif, serif" font-size="20" xml:space="preserve">,</text>
<text x="637.4" y="104.3" font-family="Liberation Serif, serif" font-size="20" xml:space="preserve">3</text>
<text transform="translate(647.8 93.1) scale(1.22 1)" font-family="Liberation Serif, serif" font-size="14.3">v</text>
<path d="M656.8 96.7H665.8M662.8 94.1L666.4 96.7L662.8 99.3" fill="none" stroke="#000" stroke-width="0.9" stroke-linejoin="miter"/>
<text x="670.2" y="104.3" font-family="Liberation Serif, serif" font-size="20" xml:space="preserve">4</text>
<text transform="translate(680.2 93.1) scale(1.22 1)" font-family="Liberation Serif, serif" font-size="14.3">c</text>
<defs><clipPath id="cb"><rect x="105.3" y="539.7" width="651.2" height="452.5999999999999"/></clipPath></defs>
<rect x="112.9" y="539.7" width="635.5500000000001" height="444.5999999999999" fill="none" stroke="#000" stroke-width="1.1"/>
<g clip-path="url(#cb)">
<path d="M113.2 939.9L119.7 946.4L113.2 952.9L106.7 946.4Z" fill="#000000"/>
<path d="M134.3 936.0L140.8 942.5L134.3 949.0L127.8 942.5Z" fill="#000000"/>
<path d="M155.5 926.8L162.0 933.3L155.5 939.8L149.0 933.3Z" fill="#000000"/>
<path d="M176.7 915.6L183.2 922.1L176.7 928.6L170.2 922.1Z" fill="#000000"/>
<path d="M197.8 905.1L204.3 911.6L197.8 918.1L191.3 911.6Z" fill="#000000"/>
<path d="M219.0 898.0L225.5 904.5L219.0 911.0L212.5 904.5Z" fill="#000000"/>
<path d="M240.2 892.0L246.7 898.5L240.2 905.0L233.7 898.5Z" fill="#000000"/>
<path d="M261.4 887.0L267.9 893.5L261.4 900.0L254.9 893.5Z" fill="#000000"/>
<path d="M282.5 882.3L289.0 888.8L282.5 895.3L276.0 888.8Z" fill="#000000"/>
<path d="M303.7 877.7L310.2 884.2L303.7 890.7L297.2 884.2Z" fill="#000000"/>
<path d="M324.9 873.6L331.4 880.1L324.9 886.6L318.4 880.1Z" fill="#000000"/>
<path d="M346.1 869.9L352.6 876.4L346.1 882.9L339.6 876.4Z" fill="#000000"/>
<path d="M367.2 866.3L373.7 872.8L367.2 879.3L360.7 872.8Z" fill="#000000"/>
<path d="M388.4 863.1L394.9 869.6L388.4 876.1L381.9 869.6Z" fill="#000000"/>
<path d="M409.6 859.9L416.1 866.4L409.6 872.9L403.1 866.4Z" fill="#000000"/>
<path d="M430.8 857.3L437.2 863.8L430.8 870.3L424.2 863.8Z" fill="#000000"/>
<path d="M451.9 854.4L458.4 860.9L451.9 867.4L445.4 860.9Z" fill="#000000"/>
<path d="M473.1 851.7L479.6 858.2L473.1 864.7L466.6 858.2Z" fill="#000000"/>
<path d="M494.3 849.4L500.8 855.9L494.3 862.4L487.8 855.9Z" fill="#000000"/>
<path d="M515.4 846.8L521.9 853.3L515.4 859.8L508.9 853.3Z" fill="#000000"/>
<path d="M536.6 844.2L543.1 850.7L536.6 857.2L530.1 850.7Z" fill="#000000"/>
<path d="M557.8 841.8L564.3 848.3L557.8 854.8L551.3 848.3Z" fill="#000000"/>
<path d="M579.0 839.7L585.5 846.2L579.0 852.7L572.5 846.2Z" fill="#000000"/>
<path d="M600.1 837.7L606.6 844.2L600.1 850.7L593.6 844.2Z" fill="#000000"/>
<path d="M621.3 835.5L627.8 842.0L621.3 848.5L614.8 842.0Z" fill="#000000"/>
<path d="M642.5 833.6L649.0 840.1L642.5 846.6L636.0 840.1Z" fill="#000000"/>
<path d="M663.7 831.9L670.2 838.4L663.7 844.9L657.2 838.4Z" fill="#000000"/>
<path d="M684.8 829.7L691.3 836.2L684.8 842.7L678.3 836.2Z" fill="#000000"/>
<path d="M706.0 827.8L712.5 834.3L706.0 840.8L699.5 834.3Z" fill="#000000"/>
<path d="M727.2 826.1L733.7 832.6L727.2 839.1L720.7 832.6Z" fill="#000000"/>
<path d="M748.4 824.4L754.9 830.9L748.4 837.4L741.9 830.9Z" fill="#000000"/>
<path d="M134.3 955.8L140.3 966.1L128.4 966.1Z" fill="none" stroke="#000000" stroke-width="0.9"/>
<path d="M155.5 954.4L161.4 964.7L149.5 964.7Z" fill="none" stroke="#000000" stroke-width="0.9"/>
<path d="M176.7 949.9L182.6 960.2L170.7 960.2Z" fill="none" stroke="#000000" stroke-width="0.9"/>
<path d="M197.8 945.2L203.8 955.5L191.9 955.5Z" fill="none" stroke="#000000" stroke-width="0.9"/>
<path d="M219.0 942.1L225.0 952.4L213.1 952.4Z" fill="none" stroke="#000000" stroke-width="0.9"/>
<path d="M240.2 939.5L246.1 949.8L234.2 949.8Z" fill="none" stroke="#000000" stroke-width="0.9"/>
<path d="M261.4 937.4L267.3 947.7L255.4 947.7Z" fill="none" stroke="#000000" stroke-width="0.9"/>
<path d="M282.5 934.8L288.5 945.1L276.6 945.1Z" fill="none" stroke="#000000" stroke-width="0.9"/>
<path d="M303.7 932.9L309.7 943.2L297.8 943.2Z" fill="none" stroke="#000000" stroke-width="0.9"/>
<path d="M324.9 931.1L330.8 941.4L318.9 941.4Z" fill="none" stroke="#000000" stroke-width="0.9"/>
<path d="M346.1 929.5L352.0 939.8L340.1 939.8Z" fill="none" stroke="#000000" stroke-width="0.9"/>
<path d="M367.2 927.7L373.2 938.0L361.3 938.0Z" fill="none" stroke="#000000" stroke-width="0.9"/>
<path d="M388.4 926.4L394.4 936.7L382.5 936.7Z" fill="none" stroke="#000000" stroke-width="0.9"/>
<path d="M409.6 925.1L415.5 935.4L403.6 935.4Z" fill="none" stroke="#000000" stroke-width="0.9"/>
<path d="M430.8 923.8L436.7 934.1L424.8 934.1Z" fill="none" stroke="#000000" stroke-width="0.9"/>
<path d="M451.9 922.7L457.9 933.0L446.0 933.0Z" fill="none" stroke="#000000" stroke-width="0.9"/>
<path d="M473.1 921.5L479.0 931.8L467.1 931.8Z" fill="none" stroke="#000000" stroke-width="0.9"/>
<path d="M494.3 920.4L500.2 930.7L488.3 930.7Z" fill="none" stroke="#000000" stroke-width="0.9"/>
<path d="M515.4 919.1L521.4 929.4L509.5 929.4Z" fill="none" stroke="#000000" stroke-width="0.9"/>
<path d="M536.6 917.8L542.6 928.1L530.7 928.1Z" fill="none" stroke="#000000" stroke-width="0.9"/>
<path d="M557.8 917.0L563.7 927.3L551.8 927.3Z" fill="none" stroke="#000000" stroke-width="0.9"/>
<path d="M579.0 916.0L584.9 926.3L573.0 926.3Z" fill="none" stroke="#000000" stroke-width="0.9"/>
<path d="M600.1 915.2L606.1 925.5L594.2 925.5Z" fill="none" stroke="#000000" stroke-width="0.9"/>
<path d="M621.3 913.9L627.3 924.2L615.4 924.2Z" fill="none" stroke="#000000" stroke-width="0.9"/>
<path d="M642.5 912.7L648.4 923.0L636.5 923.0Z" fill="none" stroke="#000000" stroke-width="0.9"/>
<path d="M663.7 911.6L669.6 921.9L657.7 921.9Z" fill="none" stroke="#000000" stroke-width="0.9"/>
<path d="M684.8 911.0L690.8 921.3L678.9 921.3Z" fill="none" stroke="#000000" stroke-width="0.9"/>
<path d="M706.0 910.1L712.0 920.4L700.1 920.4Z" fill="none" stroke="#000000" stroke-width="0.9"/>
<path d="M727.2 909.5L733.1 919.8L721.2 919.8Z" fill="none" stroke="#000000" stroke-width="0.9"/>
<path d="M748.4 908.8L754.3 919.1L742.4 919.1Z" fill="none" stroke="#000000" stroke-width="0.9"/>
<path d="M240.2 934.8L246.1 945.1L234.2 945.1Z" fill="none" stroke="#000000" stroke-width="0.9"/>
<path d="M261.4 930.3L267.3 940.6L255.4 940.6Z" fill="none" stroke="#000000" stroke-width="0.9"/>
<path d="M282.5 926.4L288.5 936.7L276.6 936.7Z" fill="none" stroke="#000000" stroke-width="0.9"/>
<path d="M303.7 922.6L309.7 932.9L297.8 932.9Z" fill="none" stroke="#000000" stroke-width="0.9"/>
<path d="M324.9 919.3L330.8 929.6L318.9 929.6Z" fill="none" stroke="#000000" stroke-width="0.9"/>
<path d="M346.1 915.8L352.0 926.1L340.1 926.1Z" fill="none" stroke="#000000" stroke-width="0.9"/>
<path d="M367.2 912.9L373.2 923.2L361.3 923.2Z" fill="none" stroke="#000000" stroke-width="0.9"/>
<path d="M388.4 910.2L394.4 920.5L382.5 920.5Z" fill="none" stroke="#000000" stroke-width="0.9"/>
<path d="M409.6 907.6L415.5 917.9L403.6 917.9Z" fill="none" stroke="#000000" stroke-width="0.9"/>
<path d="M430.8 905.0L436.7 915.3L424.8 915.3Z" fill="none" stroke="#000000" stroke-width="0.9"/>
<path d="M451.9 902.2L457.9 912.5L446.0 912.5Z" fill="none" stroke="#000000" stroke-width="0.9"/>
<path d="M473.1 900.1L479.0 910.4L467.1 910.4Z" fill="none" stroke="#000000" stroke-width="0.9"/>
<path d="M494.3 897.4L500.2 907.7L488.3 907.7Z" fill="none" stroke="#000000" stroke-width="0.9"/>
<path d="M515.4 894.8L521.4 905.1L509.5 905.1Z" fill="none" stroke="#000000" stroke-width="0.9"/>
<path d="M536.6 892.9L542.6 903.2L530.7 903.2Z" fill="none" stroke="#000000" stroke-width="0.9"/>
<path d="M557.8 890.8L563.7 901.1L551.8 901.1Z" fill="none" stroke="#000000" stroke-width="0.9"/>
<path d="M579.0 889.0L584.9 899.3L573.0 899.3Z" fill="none" stroke="#000000" stroke-width="0.9"/>
<path d="M600.1 886.9L606.1 897.2L594.2 897.2Z" fill="none" stroke="#000000" stroke-width="0.9"/>
<path d="M621.3 884.4L627.3 894.7L615.4 894.7Z" fill="none" stroke="#000000" stroke-width="0.9"/>
<path d="M642.5 882.2L648.4 892.5L636.5 892.5Z" fill="none" stroke="#000000" stroke-width="0.9"/>
<path d="M663.7 880.1L669.6 890.4L657.7 890.4Z" fill="none" stroke="#000000" stroke-width="0.9"/>
<path d="M684.8 878.4L690.8 888.7L678.9 888.7Z" fill="none" stroke="#000000" stroke-width="0.9"/>
<path d="M706.0 876.6L712.0 886.9L700.1 886.9Z" fill="none" stroke="#000000" stroke-width="0.9"/>
<path d="M727.2 874.7L733.1 885.0L721.2 885.0Z" fill="none" stroke="#000000" stroke-width="0.9"/>
<path d="M748.4 873.0L754.3 883.3L742.4 883.3Z" fill="none" stroke="#000000" stroke-width="0.9"/>
<rect x="191.8" y="929.1" width="12.1" height="12.1" fill="none" stroke="#000000" stroke-width="0.95"/>
<rect x="213.0" y="924.6" width="12.1" height="12.1" fill="none" stroke="#000000" stroke-width="0.95"/>
<rect x="234.1" y="919.6" width="12.1" height="12.1" fill="none" stroke="#000000" stroke-width="0.95"/>
<rect x="255.3" y="915.6" width="12.1" height="12.1" fill="none" stroke="#000000" stroke-width="0.95"/>
<rect x="276.5" y="911.9" width="12.1" height="12.1" fill="none" stroke="#000000" stroke-width="0.95"/>
<rect x="297.7" y="908.6" width="12.1" height="12.1" fill="none" stroke="#000000" stroke-width="0.95"/>
<rect x="318.8" y="905.4" width="12.1" height="12.1" fill="none" stroke="#000000" stroke-width="0.95"/>
<rect x="340.0" y="902.8" width="12.1" height="12.1" fill="none" stroke="#000000" stroke-width="0.95"/>
<rect x="361.2" y="900.5" width="12.1" height="12.1" fill="none" stroke="#000000" stroke-width="0.95"/>
<rect x="382.4" y="898.0" width="12.1" height="12.1" fill="none" stroke="#000000" stroke-width="0.95"/>
<rect x="403.5" y="895.9" width="12.1" height="12.1" fill="none" stroke="#000000" stroke-width="0.95"/>
<rect x="424.7" y="893.6" width="12.1" height="12.1" fill="none" stroke="#000000" stroke-width="0.95"/>
<rect x="445.9" y="891.6" width="12.1" height="12.1" fill="none" stroke="#000000" stroke-width="0.95"/>
<rect x="467.0" y="889.8" width="12.1" height="12.1" fill="none" stroke="#000000" stroke-width="0.95"/>
<rect x="488.2" y="887.9" width="12.1" height="12.1" fill="none" stroke="#000000" stroke-width="0.95"/>
<rect x="509.4" y="886.0" width="12.1" height="12.1" fill="none" stroke="#000000" stroke-width="0.95"/>
<rect x="530.6" y="884.1" width="12.1" height="12.1" fill="none" stroke="#000000" stroke-width="0.95"/>
<rect x="551.7" y="882.6" width="12.1" height="12.1" fill="none" stroke="#000000" stroke-width="0.95"/>
<rect x="572.9" y="880.8" width="12.1" height="12.1" fill="none" stroke="#000000" stroke-width="0.95"/>
<rect x="594.1" y="879.0" width="12.1" height="12.1" fill="none" stroke="#000000" stroke-width="0.95"/>
<rect x="615.3" y="877.5" width="12.1" height="12.1" fill="none" stroke="#000000" stroke-width="0.95"/>
<rect x="636.4" y="875.5" width="12.1" height="12.1" fill="none" stroke="#000000" stroke-width="0.95"/>
<rect x="657.6" y="873.8" width="12.1" height="12.1" fill="none" stroke="#000000" stroke-width="0.95"/>
<rect x="678.8" y="872.8" width="12.1" height="12.1" fill="none" stroke="#000000" stroke-width="0.95"/>
<rect x="700.0" y="871.6" width="12.1" height="12.1" fill="none" stroke="#000000" stroke-width="0.95"/>
<rect x="721.1" y="871.0" width="12.1" height="12.1" fill="none" stroke="#000000" stroke-width="0.95"/>
<rect x="742.3" y="870.0" width="12.1" height="12.1" fill="none" stroke="#000000" stroke-width="0.95"/>
<path d="M113.2 902.0L119.7 908.5L113.2 915.0L106.7 908.5Z" fill="#0000ff"/>
<path d="M134.3 900.7L140.8 907.2L134.3 913.7L127.8 907.2Z" fill="#0000ff"/>
<path d="M155.5 896.2L162.0 902.7L155.5 909.2L149.0 902.7Z" fill="#0000ff"/>
<path d="M176.7 888.9L183.2 895.4L176.7 901.9L170.2 895.4Z" fill="#0000ff"/>
<path d="M197.8 878.9L204.3 885.4L197.8 891.9L191.3 885.4Z" fill="#0000ff"/>
<path d="M219.0 867.1L225.5 873.6L219.0 880.1L212.5 873.6Z" fill="#0000ff"/>
<path d="M240.2 854.3L246.7 860.8L240.2 867.3L233.7 860.8Z" fill="#0000ff"/>
<path d="M261.4 844.1L267.9 850.6L261.4 857.1L254.9 850.6Z" fill="#0000ff"/>
<path d="M282.5 836.2L289.0 842.7L282.5 849.2L276.0 842.7Z" fill="#0000ff"/>
<path d="M303.7 828.5L310.2 835.0L303.7 841.5L297.2 835.0Z" fill="#0000ff"/>
<path d="M324.9 821.7L331.4 828.2L324.9 834.7L318.4 828.2Z" fill="#0000ff"/>
<path d="M346.1 815.3L352.6 821.8L346.1 828.3L339.6 821.8Z" fill="#0000ff"/>
<path d="M367.2 809.8L373.7 816.3L367.2 822.8L360.7 816.3Z" fill="#0000ff"/>
<path d="M388.4 804.5L394.9 811.0L388.4 817.5L381.9 811.0Z" fill="#0000ff"/>
<path d="M409.6 799.4L416.1 805.9L409.6 812.4L403.1 805.9Z" fill="#0000ff"/>
<path d="M430.8 795.4L437.2 801.9L430.8 808.4L424.2 801.9Z" fill="#0000ff"/>
<path d="M451.9 790.3L458.4 796.8L451.9 803.3L445.4 796.8Z" fill="#0000ff"/>
<path d="M473.1 784.9L479.6 791.4L473.1 797.9L466.6 791.4Z" fill="#0000ff"/>
<path d="M494.3 779.9L500.8 786.4L494.3 792.9L487.8 786.4Z" fill="#0000ff"/>
<path d="M515.4 774.2L521.9 780.7L515.4 787.2L508.9 780.7Z" fill="#0000ff"/>
<path d="M536.6 768.7L543.1 775.2L536.6 781.7L530.1 775.2Z" fill="#0000ff"/>
<path d="M557.8 763.4L564.3 769.9L557.8 776.4L551.3 769.9Z" fill="#0000ff"/>
<path d="M579.0 758.2L585.5 764.7L579.0 771.2L572.5 764.7Z" fill="#0000ff"/>
<path d="M600.1 753.0L606.6 759.5L600.1 766.0L593.6 759.5Z" fill="#0000ff"/>
<path d="M621.3 747.8L627.8 754.3L621.3 760.8L614.8 754.3Z" fill="#0000ff"/>
<path d="M642.5 743.0L649.0 749.5L642.5 756.0L636.0 749.5Z" fill="#0000ff"/>
<path d="M663.7 738.3L670.2 744.8L663.7 751.3L657.2 744.8Z" fill="#0000ff"/>
<path d="M684.8 733.4L691.3 739.9L684.8 746.4L678.3 739.9Z" fill="#0000ff"/>
<path d="M706.0 729.1L712.5 735.6L706.0 742.1L699.5 735.6Z" fill="#0000ff"/>
<path d="M727.2 724.3L733.7 730.8L727.2 737.3L720.7 730.8Z" fill="#0000ff"/>
<path d="M748.4 719.6L754.9 726.1L748.4 732.6L741.9 726.1Z" fill="#0000ff"/>
<path d="M197.8 892.4L203.8 902.7L191.9 902.7Z" fill="none" stroke="#0000ff" stroke-width="0.9"/>
<path d="M219.0 882.7L225.0 893.0L213.1 893.0Z" fill="none" stroke="#0000ff" stroke-width="0.9"/>
<path d="M240.2 873.7L246.1 884.0L234.2 884.0Z" fill="none" stroke="#0000ff" stroke-width="0.9"/>
<path d="M261.4 867.5L267.3 877.8L255.4 877.8Z" fill="none" stroke="#0000ff" stroke-width="0.9"/>
<path d="M282.5 861.0L288.5 871.3L276.6 871.3Z" fill="none" stroke="#0000ff" stroke-width="0.9"/>
<path d="M303.7 854.7L309.7 865.0L297.8 865.0Z" fill="none" stroke="#0000ff" stroke-width="0.9"/>
<path d="M324.9 849.3L330.8 859.6L318.9 859.6Z" fill="none" stroke="#0000ff" stroke-width="0.9"/>
<path d="M346.1 844.0L352.0 854.3L340.1 854.3Z" fill="none" stroke="#0000ff" stroke-width="0.9"/>
<path d="M367.2 839.6L373.2 849.9L361.3 849.9Z" fill="none" stroke="#0000ff" stroke-width="0.9"/>
<path d="M388.4 835.0L394.4 845.3L382.5 845.3Z" fill="none" stroke="#0000ff" stroke-width="0.9"/>
<path d="M409.6 831.0L415.5 841.3L403.6 841.3Z" fill="none" stroke="#0000ff" stroke-width="0.9"/>
<path d="M430.8 827.1L436.7 837.4L424.8 837.4Z" fill="none" stroke="#0000ff" stroke-width="0.9"/>
<path d="M451.9 823.6L457.9 833.9L446.0 833.9Z" fill="none" stroke="#0000ff" stroke-width="0.9"/>
<path d="M473.1 820.3L479.0 830.6L467.1 830.6Z" fill="none" stroke="#0000ff" stroke-width="0.9"/>
<path d="M494.3 816.8L500.2 827.1L488.3 827.1Z" fill="none" stroke="#0000ff" stroke-width="0.9"/>
<path d="M515.4 813.5L521.4 823.8L509.5 823.8Z" fill="none" stroke="#0000ff" stroke-width="0.9"/>
<path d="M536.6 810.3L542.6 820.6L530.7 820.6Z" fill="none" stroke="#0000ff" stroke-width="0.9"/>
<path d="M557.8 807.4L563.7 817.7L551.8 817.7Z" fill="none" stroke="#0000ff" stroke-width="0.9"/>
<path d="M579.0 804.7L584.9 815.0L573.0 815.0Z" fill="none" stroke="#0000ff" stroke-width="0.9"/>
<path d="M600.1 802.0L606.1 812.3L594.2 812.3Z" fill="none" stroke="#0000ff" stroke-width="0.9"/>
<path d="M621.3 799.1L627.3 809.4L615.4 809.4Z" fill="none" stroke="#0000ff" stroke-width="0.9"/>
<path d="M642.5 796.6L648.4 806.9L636.5 806.9Z" fill="none" stroke="#0000ff" stroke-width="0.9"/>
<path d="M663.7 793.8L669.6 804.1L657.7 804.1Z" fill="none" stroke="#0000ff" stroke-width="0.9"/>
<path d="M684.8 791.6L690.8 801.9L678.9 801.9Z" fill="none" stroke="#0000ff" stroke-width="0.9"/>
<path d="M706.0 788.8L712.0 799.1L700.1 799.1Z" fill="none" stroke="#0000ff" stroke-width="0.9"/>
<path d="M727.2 786.7L733.1 797.0L721.2 797.0Z" fill="none" stroke="#0000ff" stroke-width="0.9"/>
<path d="M748.4 784.5L754.3 794.8L742.4 794.8Z" fill="none" stroke="#0000ff" stroke-width="0.9"/>
<path d="M261.4 861.5L267.3 871.8L255.4 871.8Z" fill="none" stroke="#0000ff" stroke-width="0.9"/>
<path d="M282.5 852.2L288.5 862.5L276.6 862.5Z" fill="none" stroke="#0000ff" stroke-width="0.9"/>
<path d="M303.7 843.0L309.7 853.3L297.8 853.3Z" fill="none" stroke="#0000ff" stroke-width="0.9"/>
<path d="M324.9 834.5L330.8 844.8L318.9 844.8Z" fill="none" stroke="#0000ff" stroke-width="0.9"/>
<path d="M346.1 826.4L352.0 836.7L340.1 836.7Z" fill="none" stroke="#0000ff" stroke-width="0.9"/>
<path d="M367.2 819.2L373.2 829.5L361.3 829.5Z" fill="none" stroke="#0000ff" stroke-width="0.9"/>
<path d="M388.4 812.2L394.4 822.5L382.5 822.5Z" fill="none" stroke="#0000ff" stroke-width="0.9"/>
<path d="M409.6 805.5L415.5 815.8L403.6 815.8Z" fill="none" stroke="#0000ff" stroke-width="0.9"/>
<path d="M430.8 799.0L436.7 809.3L424.8 809.3Z" fill="none" stroke="#0000ff" stroke-width="0.9"/>
<path d="M451.9 793.0L457.9 803.3L446.0 803.3Z" fill="none" stroke="#0000ff" stroke-width="0.9"/>
<path d="M473.1 786.8L479.0 797.1L467.1 797.1Z" fill="none" stroke="#0000ff" stroke-width="0.9"/>
<path d="M494.3 781.3L500.2 791.6L488.3 791.6Z" fill="none" stroke="#0000ff" stroke-width="0.9"/>
<path d="M515.4 776.8L521.4 787.1L509.5 787.1Z" fill="none" stroke="#0000ff" stroke-width="0.9"/>
<path d="M536.6 774.8L542.6 785.1L530.7 785.1Z" fill="none" stroke="#0000ff" stroke-width="0.9"/>
<path d="M557.8 771.6L563.7 781.9L551.8 781.9Z" fill="none" stroke="#0000ff" stroke-width="0.9"/>
<path d="M579.0 768.5L584.9 778.8L573.0 778.8Z" fill="none" stroke="#0000ff" stroke-width="0.9"/>
<path d="M600.1 765.1L606.1 775.4L594.2 775.4Z" fill="none" stroke="#0000ff" stroke-width="0.9"/>
<path d="M621.3 762.2L627.3 772.5L615.4 772.5Z" fill="none" stroke="#0000ff" stroke-width="0.9"/>
<path d="M642.5 759.0L648.4 769.3L636.5 769.3Z" fill="none" stroke="#0000ff" stroke-width="0.9"/>
<path d="M663.7 755.8L669.6 766.1L657.7 766.1Z" fill="none" stroke="#0000ff" stroke-width="0.9"/>
<path d="M684.8 752.6L690.8 762.9L678.9 762.9Z" fill="none" stroke="#0000ff" stroke-width="0.9"/>
<path d="M706.0 749.8L712.0 760.1L700.1 760.1Z" fill="none" stroke="#0000ff" stroke-width="0.9"/>
<path d="M727.2 747.0L733.1 757.3L721.2 757.3Z" fill="none" stroke="#0000ff" stroke-width="0.9"/>
<path d="M748.4 744.4L754.3 754.7L742.4 754.7Z" fill="none" stroke="#0000ff" stroke-width="0.9"/>
<path d="M113.2 864.8L119.7 871.3L113.2 877.8L106.7 871.3Z" fill="#00ff00"/>
<path d="M134.3 864.0L140.8 870.5L134.3 877.0L127.8 870.5Z" fill="#00ff00"/>
<path d="M155.5 860.6L162.0 867.1L155.5 873.6L149.0 867.1Z" fill="#00ff00"/>
<path d="M176.7 856.4L183.2 862.9L176.7 869.4L170.2 862.9Z" fill="#00ff00"/>
<path d="M197.8 849.1L204.3 855.6L197.8 862.1L191.3 855.6Z" fill="#00ff00"/>
<path d="M219.0 840.9L225.5 847.4L219.0 853.9L212.5 847.4Z" fill="#00ff00"/>
<path d="M240.2 830.9L246.7 837.4L240.2 843.9L233.7 837.4Z" fill="#00ff00"/>
<path d="M261.4 818.9L267.9 825.4L261.4 831.9L254.9 825.4Z" fill="#00ff00"/>
<path d="M282.5 806.2L289.0 812.7L282.5 819.2L276.0 812.7Z" fill="#00ff00"/>
<path d="M303.7 793.4L310.2 799.9L303.7 806.4L297.2 799.9Z" fill="#00ff00"/>
<path d="M324.9 783.4L331.4 789.9L324.9 796.4L318.4 789.9Z" fill="#00ff00"/>
<path d="M346.1 774.7L352.6 781.2L346.1 787.7L339.6 781.2Z" fill="#00ff00"/>
<path d="M367.2 767.0L373.7 773.5L367.2 780.0L360.7 773.5Z" fill="#00ff00"/>
<path d="M388.4 759.1L394.9 765.6L388.4 772.1L381.9 765.6Z" fill="#00ff00"/>
<path d="M409.6 752.9L416.1 759.4L409.6 765.9L403.1 759.4Z" fill="#00ff00"/>
<path d="M430.8 745.5L437.2 752.0L430.8 758.5L424.2 752.0Z" fill="#00ff00"/>
<path d="M451.9 738.9L458.4 745.4L451.9 751.9L445.4 745.4Z" fill="#00ff00"/>
<path d="M473.1 730.9L479.6 737.4L473.1 743.9L466.6 737.4Z" fill="#00ff00"/>
<path d="M494.3 723.1L500.8 729.6L494.3 736.1L487.8 729.6Z" fill="#00ff00"/>
<path d="M515.4 715.8L521.9 722.3L515.4 728.8L508.9 722.3Z" fill="#00ff00"/>
<path d="M536.6 708.5L543.1 715.0L536.6 721.5L530.1 715.0Z" fill="#00ff00"/>
<path d="M557.8 700.9L564.3 707.4L557.8 713.9L551.3 707.4Z" fill="#00ff00"/>
<path d="M579.0 694.2L585.5 700.7L579.0 707.2L572.5 700.7Z" fill="#00ff00"/>
<path d="M600.1 687.5L606.6 694.0L600.1 700.5L593.6 694.0Z" fill="#00ff00"/>
<path d="M621.3 681.5L627.8 688.0L621.3 694.5L614.8 688.0Z" fill="#00ff00"/>
<path d="M642.5 674.6L649.0 681.1L642.5 687.6L636.0 681.1Z" fill="#00ff00"/>
<path d="M663.7 668.1L670.2 674.6L663.7 681.1L657.2 674.6Z" fill="#00ff00"/>
<path d="M684.8 661.2L691.3 667.7L684.8 674.2L678.3 667.7Z" fill="#00ff00"/>
<path d="M706.0 655.9L712.5 662.4L706.0 668.9L699.5 662.4Z" fill="#00ff00"/>
<path d="M727.2 650.1L733.7 656.6L727.2 663.1L720.7 656.6Z" fill="#00ff00"/>
<path d="M748.4 644.7L754.9 651.2L748.4 657.7L741.9 651.2Z" fill="#00ff00"/>
<path d="M261.4 832.3L267.3 842.6L255.4 842.6Z" fill="none" stroke="#00ff00" stroke-width="0.9"/>
<path d="M282.5 820.5L288.5 830.8L276.6 830.8Z" fill="none" stroke="#00ff00" stroke-width="0.9"/>
<path d="M303.7 809.5L309.7 819.8L297.8 819.8Z" fill="none" stroke="#00ff00" stroke-width="0.9"/>
<path d="M324.9 803.8L330.8 814.1L318.9 814.1Z" fill="none" stroke="#00ff00" stroke-width="0.9"/>
<path d="M346.1 795.5L352.0 805.8L340.1 805.8Z" fill="none" stroke="#00ff00" stroke-width="0.9"/>
<path d="M367.2 789.0L373.2 799.3L361.3 799.3Z" fill="none" stroke="#00ff00" stroke-width="0.9"/>
<path d="M388.4 783.0L394.4 793.3L382.5 793.3Z" fill="none" stroke="#00ff00" stroke-width="0.9"/>
<path d="M409.6 777.0L415.5 787.3L403.6 787.3Z" fill="none" stroke="#00ff00" stroke-width="0.9"/>
<path d="M430.8 771.3L436.7 781.6L424.8 781.6Z" fill="none" stroke="#00ff00" stroke-width="0.9"/>
<path d="M451.9 766.2L457.9 776.5L446.0 776.5Z" fill="none" stroke="#00ff00" stroke-width="0.9"/>
<path d="M473.1 760.7L479.0 771.0L467.1 771.0Z" fill="none" stroke="#00ff00" stroke-width="0.9"/>
<path d="M494.3 755.9L500.2 766.2L488.3 766.2Z" fill="none" stroke="#00ff00" stroke-width="0.9"/>
<path d="M515.4 751.2L521.4 761.5L509.5 761.5Z" fill="none" stroke="#00ff00" stroke-width="0.9"/>
<path d="M536.6 746.2L542.6 756.5L530.7 756.5Z" fill="none" stroke="#00ff00" stroke-width="0.9"/>
<path d="M557.8 742.3L563.7 752.6L551.8 752.6Z" fill="none" stroke="#00ff00" stroke-width="0.9"/>
<path d="M579.0 738.1L584.9 748.4L573.0 748.4Z" fill="none" stroke="#00ff00" stroke-width="0.9"/>
<path d="M600.1 734.2L606.1 744.5L594.2 744.5Z" fill="none" stroke="#00ff00" stroke-width="0.9"/>
<path d="M621.3 730.0L627.3 740.3L615.4 740.3Z" fill="none" stroke="#00ff00" stroke-width="0.9"/>
<path d="M642.5 726.2L648.4 736.5L636.5 736.5Z" fill="none" stroke="#00ff00" stroke-width="0.9"/>
<path d="M663.7 722.5L669.6 732.8L657.7 732.8Z" fill="none" stroke="#00ff00" stroke-width="0.9"/>
<path d="M684.8 719.3L690.8 729.6L678.9 729.6Z" fill="none" stroke="#00ff00" stroke-width="0.9"/>
<path d="M706.0 715.8L712.0 726.1L700.1 726.1Z" fill="none" stroke="#00ff00" stroke-width="0.9"/>
<path d="M727.2 712.6L733.1 722.9L721.2 722.9Z" fill="none" stroke="#00ff00" stroke-width="0.9"/>
<path d="M748.4 709.4L754.3 719.7L742.4 719.7Z" fill="none" stroke="#00ff00" stroke-width="0.9"/>
<path d="M324.9 797.8L330.8 808.1L318.9 808.1Z" fill="none" stroke="#00ff00" stroke-width="0.9"/>
<path d="M346.1 786.5L352.0 796.8L340.1 796.8Z" fill="none" stroke="#00ff00" stroke-width="0.9"/>
<path d="M367.2 776.5L373.2 786.8L361.3 786.8Z" fill="none" stroke="#00ff00" stroke-width="0.9"/>
<path d="M388.4 767.3L394.4 777.6L382.5 777.6Z" fill="none" stroke="#00ff00" stroke-width="0.9"/>
<path d="M409.6 759.0L415.5 769.3L403.6 769.3Z" fill="none" stroke="#00ff00" stroke-width="0.9"/>
<path d="M430.8 749.5L436.7 759.8L424.8 759.8Z" fill="none" stroke="#00ff00" stroke-width="0.9"/>
<path d="M451.9 741.2L457.9 751.5L446.0 751.5Z" fill="none" stroke="#00ff00" stroke-width="0.9"/>
<path d="M473.1 732.0L479.0 742.3L467.1 742.3Z" fill="none" stroke="#00ff00" stroke-width="0.9"/>
<path d="M494.3 729.4L500.2 739.7L488.3 739.7Z" fill="none" stroke="#00ff00" stroke-width="0.9"/>
<path d="M515.4 724.5L521.4 734.8L509.5 734.8Z" fill="none" stroke="#00ff00" stroke-width="0.9"/>
<path d="M536.6 719.3L542.6 729.6L530.7 729.6Z" fill="none" stroke="#00ff00" stroke-width="0.9"/>
<path d="M557.8 714.0L563.7 724.3L551.8 724.3Z" fill="none" stroke="#00ff00" stroke-width="0.9"/>
<path d="M579.0 708.8L584.9 719.1L573.0 719.1Z" fill="none" stroke="#00ff00" stroke-width="0.9"/>
<path d="M600.1 704.9L606.1 715.2L594.2 715.2Z" fill="none" stroke="#00ff00" stroke-width="0.9"/>
<path d="M621.3 700.6L627.3 710.9L615.4 710.9Z" fill="none" stroke="#00ff00" stroke-width="0.9"/>
<path d="M642.5 696.1L648.4 706.4L636.5 706.4Z" fill="none" stroke="#00ff00" stroke-width="0.9"/>
<path d="M663.7 692.2L669.6 702.5L657.7 702.5Z" fill="none" stroke="#00ff00" stroke-width="0.9"/>
<path d="M684.8 688.0L690.8 698.3L678.9 698.3Z" fill="none" stroke="#00ff00" stroke-width="0.9"/>
<path d="M706.0 684.0L712.0 694.3L700.1 694.3Z" fill="none" stroke="#00ff00" stroke-width="0.9"/>
<path d="M727.2 680.1L733.1 690.4L721.2 690.4Z" fill="none" stroke="#00ff00" stroke-width="0.9"/>
<path d="M748.4 676.5L754.3 686.8L742.4 686.8Z" fill="none" stroke="#00ff00" stroke-width="0.9"/>
<path d="M113.2 827.3L119.7 833.8L113.2 840.3L106.7 833.8Z" fill="#ff00ff"/>
<path d="M134.3 826.5L140.8 833.0L134.3 839.5L127.8 833.0Z" fill="#ff00ff"/>
<path d="M155.5 823.8L162.0 830.3L155.5 836.8L149.0 830.3Z" fill="#ff00ff"/>
<path d="M176.7 819.9L183.2 826.4L176.7 832.9L170.2 826.4Z" fill="#ff00ff"/>
<path d="M197.8 815.6L204.3 822.1L197.8 828.6L191.3 822.1Z" fill="#ff00ff"/>
<path d="M219.0 809.4L225.5 815.9L219.0 822.4L212.5 815.9Z" fill="#ff00ff"/>
<path d="M240.2 801.5L246.7 808.0L240.2 814.5L233.7 808.0Z" fill="#ff00ff"/>
<path d="M261.4 792.1L267.9 798.6L261.4 805.1L254.9 798.6Z" fill="#ff00ff"/>
<path d="M282.5 782.7L289.0 789.2L282.5 795.7L276.0 789.2Z" fill="#ff00ff"/>
<path d="M303.7 770.7L310.2 777.2L303.7 783.7L297.2 777.2Z" fill="#ff00ff"/>
<path d="M324.9 758.3L331.4 764.8L324.9 771.3L318.4 764.8Z" fill="#ff00ff"/>
<path d="M346.1 745.5L352.6 752.0L346.1 758.5L339.6 752.0Z" fill="#ff00ff"/>
<path d="M367.2 732.4L373.7 738.9L367.2 745.4L360.7 738.9Z" fill="#ff00ff"/>
<path d="M388.4 722.7L394.9 729.2L388.4 735.7L381.9 729.2Z" fill="#ff00ff"/>
<path d="M409.6 714.1L416.1 720.6L409.6 727.1L403.1 720.6Z" fill="#ff00ff"/>
<path d="M430.8 705.7L437.2 712.2L430.8 718.7L424.2 712.2Z" fill="#ff00ff"/>
<path d="M451.9 697.2L458.4 703.7L451.9 710.2L445.4 703.7Z" fill="#ff00ff"/>
<path d="M473.1 688.5L479.6 695.0L473.1 701.5L466.6 695.0Z" fill="#ff00ff"/>
<path d="M494.3 679.9L500.8 686.4L494.3 692.9L487.8 686.4Z" fill="#ff00ff"/>
<path d="M515.4 671.7L521.9 678.2L515.4 684.7L508.9 678.2Z" fill="#ff00ff"/>
<path d="M536.6 662.5L543.1 669.0L536.6 675.5L530.1 669.0Z" fill="#ff00ff"/>
<path d="M557.8 653.9L564.3 660.4L557.8 666.9L551.3 660.4Z" fill="#ff00ff"/>
<path d="M579.0 646.0L585.5 652.5L579.0 659.0L572.5 652.5Z" fill="#ff00ff"/>
<path d="M600.1 637.7L606.6 644.2L600.1 650.7L593.6 644.2Z" fill="#ff00ff"/>
<path d="M621.3 629.7L627.8 636.2L621.3 642.7L614.8 636.2Z" fill="#ff00ff"/>
<path d="M642.5 622.1L649.0 628.6L642.5 635.1L636.0 628.6Z" fill="#ff00ff"/>
<path d="M663.7 614.0L670.2 620.5L663.7 627.0L657.2 620.5Z" fill="#ff00ff"/>
<path d="M684.8 606.5L691.3 613.0L684.8 619.5L678.3 613.0Z" fill="#ff00ff"/>
<path d="M706.0 599.6L712.5 606.1L706.0 612.6L699.5 606.1Z" fill="#ff00ff"/>
<path d="M727.2 593.0L733.7 599.5L727.2 606.0L720.7 599.5Z" fill="#ff00ff"/>
<path d="M748.4 585.7L754.9 592.2L748.4 598.7L741.9 592.2Z" fill="#ff00ff"/>
<path d="M303.7 782.0L309.7 792.3L297.8 792.3Z" fill="none" stroke="#ff00ff" stroke-width="0.9"/>
<path d="M324.9 771.6L330.8 781.9L318.9 781.9Z" fill="none" stroke="#ff00ff" stroke-width="0.9"/>
<path d="M346.1 759.0L352.0 769.3L340.1 769.3Z" fill="none" stroke="#ff00ff" stroke-width="0.9"/>
<path d="M367.2 750.3L373.2 760.6L361.3 760.6Z" fill="none" stroke="#ff00ff" stroke-width="0.9"/>
<path d="M388.4 741.2L394.4 751.5L382.5 751.5Z" fill="none" stroke="#ff00ff" stroke-width="0.9"/>
<path d="M409.6 733.3L415.5 743.6L403.6 743.6Z" fill="none" stroke="#ff00ff" stroke-width="0.9"/>
<path d="M430.8 726.0L436.7 736.3L424.8 736.3Z" fill="none" stroke="#ff00ff" stroke-width="0.9"/>
<path d="M451.9 718.8L457.9 729.1L446.0 729.1Z" fill="none" stroke="#ff00ff" stroke-width="0.9"/>
<path d="M473.1 712.5L479.0 722.8L467.1 722.8Z" fill="none" stroke="#ff00ff" stroke-width="0.9"/>
<path d="M494.3 706.4L500.2 716.7L488.3 716.7Z" fill="none" stroke="#ff00ff" stroke-width="0.9"/>
<path d="M515.4 700.1L521.4 710.4L509.5 710.4Z" fill="none" stroke="#ff00ff" stroke-width="0.9"/>
<path d="M536.6 694.2L542.6 704.5L530.7 704.5Z" fill="none" stroke="#ff00ff" stroke-width="0.9"/>
<path d="M557.8 689.0L563.7 699.3L551.8 699.3Z" fill="none" stroke="#ff00ff" stroke-width="0.9"/>
<path d="M579.0 683.5L584.9 693.8L573.0 693.8Z" fill="none" stroke="#ff00ff" stroke-width="0.9"/>
<path d="M600.1 677.8L606.1 688.1L594.2 688.1Z" fill="none" stroke="#ff00ff" stroke-width="0.9"/>
<path d="M621.3 673.5L627.3 683.8L615.4 683.8Z" fill="none" stroke="#ff00ff" stroke-width="0.9"/>
<path d="M642.5 669.0L648.4 679.3L636.5 679.3Z" fill="none" stroke="#ff00ff" stroke-width="0.9"/>
<path d="M663.7 664.8L669.6 675.1L657.7 675.1Z" fill="none" stroke="#ff00ff" stroke-width="0.9"/>
<path d="M684.8 659.8L690.8 670.1L678.9 670.1Z" fill="none" stroke="#ff00ff" stroke-width="0.9"/>
<path d="M706.0 656.2L712.0 666.5L700.1 666.5Z" fill="none" stroke="#ff00ff" stroke-width="0.9"/>
<path d="M727.2 651.2L733.1 661.5L721.2 661.5Z" fill="none" stroke="#ff00ff" stroke-width="0.9"/>
<path d="M748.4 646.6L754.3 656.9L742.4 656.9Z" fill="none" stroke="#ff00ff" stroke-width="0.9"/>
<path d="M367.2 746.4L373.2 756.7L361.3 756.7Z" fill="none" stroke="#ff00ff" stroke-width="0.9"/>
<path d="M388.4 733.8L394.4 744.1L382.5 744.1Z" fill="none" stroke="#ff00ff" stroke-width="0.9"/>
<path d="M409.6 722.8L415.5 733.1L403.6 733.1Z" fill="none" stroke="#ff00ff" stroke-width="0.9"/>
<path d="M430.8 712.4L436.7 722.7L424.8 722.7Z" fill="none" stroke="#ff00ff" stroke-width="0.9"/>
<path d="M451.9 701.7L457.9 712.0L446.0 712.0Z" fill="none" stroke="#ff00ff" stroke-width="0.9"/>
<path d="M473.1 692.2L479.0 702.5L467.1 702.5Z" fill="none" stroke="#ff00ff" stroke-width="0.9"/>
<path d="M494.3 682.3L500.2 692.6L488.3 692.6Z" fill="none" stroke="#ff00ff" stroke-width="0.9"/>
<path d="M515.4 677.0L521.4 687.3L509.5 687.3Z" fill="none" stroke="#ff00ff" stroke-width="0.9"/>
<path d="M536.6 671.3L542.6 681.6L530.7 681.6Z" fill="none" stroke="#ff00ff" stroke-width="0.9"/>
<path d="M557.8 664.9L563.7 675.2L551.8 675.2Z" fill="none" stroke="#ff00ff" stroke-width="0.9"/>
<path d="M579.0 659.0L584.9 669.3L573.0 669.3Z" fill="none" stroke="#ff00ff" stroke-width="0.9"/>
<path d="M600.1 652.9L606.1 663.2L594.2 663.2Z" fill="none" stroke="#ff00ff" stroke-width="0.9"/>
<path d="M621.3 647.8L627.3 658.1L615.4 658.1Z" fill="none" stroke="#ff00ff" stroke-width="0.9"/>
<path d="M642.5 642.6L648.4 652.9L636.5 652.9Z" fill="none" stroke="#ff00ff" stroke-width="0.9"/>
<path d="M663.7 637.3L669.6 647.6L657.7 647.6Z" fill="none" stroke="#ff00ff" stroke-width="0.9"/>
<path d="M684.8 632.3L690.8 642.6L678.9 642.6Z" fill="none" stroke="#ff00ff" stroke-width="0.9"/>
<path d="M706.0 627.6L712.0 637.9L700.1 637.9Z" fill="none" stroke="#ff00ff" stroke-width="0.9"/>
<path d="M727.2 622.9L733.1 633.2L721.2 633.2Z" fill="none" stroke="#ff00ff" stroke-width="0.9"/>
<path d="M748.4 619.0L754.3 629.3L742.4 629.3Z" fill="none" stroke="#ff00ff" stroke-width="0.9"/>
</g>
<path d="M134.1 964.5L155.2 956.3L176.4 950.0L197.6 944.6L218.8 940.0L239.9 935.7L261.1 931.8L282.3 928.2L303.5 924.8L324.6 921.6L345.8 918.5L367.0 915.6L388.2 912.8L409.3 910.1L430.5 907.5L451.7 905.0L472.8 902.6L494.0 900.2L515.2 897.9L536.4 895.6L557.5 893.4L578.7 891.3L599.9 889.2L621.1 887.2L642.2 885.2L663.4 883.2L684.6 881.3L705.8 879.4L726.9 877.5L748.1 875.7" fill="none" stroke="#000000" stroke-width="1.3" stroke-dasharray="6.4 4.18"/>
<path d="M134.1 936.4L155.2 916.6L176.4 901.4L197.6 888.6L218.8 877.3L239.9 867.1L261.1 857.7L282.3 848.9L303.5 840.7L324.6 833.0L345.8 825.6L367.0 818.5L388.2 811.7L409.3 805.2L430.5 798.9L451.7 792.9L472.8 787.0L494.0 781.3L515.2 775.7L536.4 770.3L557.5 765.0L578.7 759.8L599.9 754.8L621.1 749.8L642.2 745.0L663.4 740.3L684.6 735.6L705.8 731.1L726.9 726.6L748.1 722.2" fill="none" stroke="#0000ff" stroke-width="1.3" stroke-dasharray="6.4 4.18"/>
<path d="M134.1 921.9L155.2 896.1L176.4 876.3L197.6 859.6L218.8 844.8L239.9 831.5L261.1 819.3L282.3 807.9L303.5 797.2L324.6 787.1L345.8 777.4L367.0 768.2L388.2 759.4L409.3 750.9L430.5 742.7L451.7 734.8L472.8 727.1L494.0 719.7L515.2 712.4L536.4 705.4L557.5 698.5L578.7 691.8L599.9 685.2L621.1 678.7L642.2 672.4L663.4 666.3L684.6 660.2L705.8 654.3L726.9 648.4L748.1 642.7" fill="none" stroke="#00ff00" stroke-width="1.3" stroke-dasharray="6.4 4.18"/>
<path d="M134.1 910.3L155.2 879.7L176.4 856.1L197.6 836.3L218.8 818.9L239.9 803.1L261.1 788.5L282.3 775.0L303.5 762.3L324.6 750.3L345.8 738.9L367.0 728.0L388.2 717.5L409.3 707.5L430.5 697.7L451.7 688.3L472.8 679.2L494.0 670.4L515.2 661.8L536.4 653.4L557.5 645.2L578.7 637.3L599.9 629.5L621.1 621.8L642.2 614.4L663.4 607.0L684.6 599.8L705.8 592.8L726.9 585.9L748.1 579.1" fill="none" stroke="#ff00ff" stroke-width="1.3" stroke-dasharray="6.4 4.18"/>
<line x1="112.9" y1="984.3" x2="112.9" y2="994.8" stroke="#000" stroke-width="1.1"/>
<line x1="134.1" y1="984.3" x2="134.1" y2="989.8" stroke="#000" stroke-width="1.1"/>
<line x1="155.2" y1="984.3" x2="155.2" y2="989.8" stroke="#000" stroke-width="1.1"/>
<line x1="176.4" y1="984.3" x2="176.4" y2="989.8" stroke="#000" stroke-width="1.1"/>
<line x1="197.6" y1="984.3" x2="197.6" y2="989.8" stroke="#000" stroke-width="1.1"/>
<line x1="218.8" y1="984.3" x2="218.8" y2="994.8" stroke="#000" stroke-width="1.1"/>
<line x1="239.9" y1="984.3" x2="239.9" y2="989.8" stroke="#000" stroke-width="1.1"/>
<line x1="261.1" y1="984.3" x2="261.1" y2="989.8" stroke="#000" stroke-width="1.1"/>
<line x1="282.3" y1="984.3" x2="282.3" y2="989.8" stroke="#000" stroke-width="1.1"/>
<line x1="303.5" y1="984.3" x2="303.5" y2="989.8" stroke="#000" stroke-width="1.1"/>
<line x1="324.6" y1="984.3" x2="324.6" y2="994.8" stroke="#000" stroke-width="1.1"/>
<line x1="345.8" y1="984.3" x2="345.8" y2="989.8" stroke="#000" stroke-width="1.1"/>
<line x1="367.0" y1="984.3" x2="367.0" y2="989.8" stroke="#000" stroke-width="1.1"/>
<line x1="388.2" y1="984.3" x2="388.2" y2="989.8" stroke="#000" stroke-width="1.1"/>
<line x1="409.3" y1="984.3" x2="409.3" y2="989.8" stroke="#000" stroke-width="1.1"/>
<line x1="430.5" y1="984.3" x2="430.5" y2="994.8" stroke="#000" stroke-width="1.1"/>
<line x1="451.7" y1="984.3" x2="451.7" y2="989.8" stroke="#000" stroke-width="1.1"/>
<line x1="472.8" y1="984.3" x2="472.8" y2="989.8" stroke="#000" stroke-width="1.1"/>
<line x1="494.0" y1="984.3" x2="494.0" y2="989.8" stroke="#000" stroke-width="1.1"/>
<line x1="515.2" y1="984.3" x2="515.2" y2="989.8" stroke="#000" stroke-width="1.1"/>
<line x1="536.4" y1="984.3" x2="536.4" y2="994.8" stroke="#000" stroke-width="1.1"/>
<line x1="557.5" y1="984.3" x2="557.5" y2="989.8" stroke="#000" stroke-width="1.1"/>
<line x1="578.7" y1="984.3" x2="578.7" y2="989.8" stroke="#000" stroke-width="1.1"/>
<line x1="599.9" y1="984.3" x2="599.9" y2="989.8" stroke="#000" stroke-width="1.1"/>
<line x1="621.1" y1="984.3" x2="621.1" y2="989.8" stroke="#000" stroke-width="1.1"/>
<line x1="642.2" y1="984.3" x2="642.2" y2="994.8" stroke="#000" stroke-width="1.1"/>
<line x1="663.4" y1="984.3" x2="663.4" y2="989.8" stroke="#000" stroke-width="1.1"/>
<line x1="684.6" y1="984.3" x2="684.6" y2="989.8" stroke="#000" stroke-width="1.1"/>
<line x1="705.8" y1="984.3" x2="705.8" y2="989.8" stroke="#000" stroke-width="1.1"/>
<line x1="726.9" y1="984.3" x2="726.9" y2="989.8" stroke="#000" stroke-width="1.1"/>
<line x1="748.1" y1="984.3" x2="748.1" y2="994.8" stroke="#000" stroke-width="1.1"/>
<line x1="102.10000000000001" y1="984.3" x2="112.9" y2="984.3" stroke="#000" stroke-width="1.1"/>
<line x1="107.10000000000001" y1="894.4" x2="112.9" y2="894.4" stroke="#000" stroke-width="1.1"/>
<line x1="102.10000000000001" y1="804.5" x2="112.9" y2="804.5" stroke="#000" stroke-width="1.1"/>
<line x1="107.10000000000001" y1="714.5" x2="112.9" y2="714.5" stroke="#000" stroke-width="1.1"/>
<line x1="102.10000000000001" y1="624.6" x2="112.9" y2="624.6" stroke="#000" stroke-width="1.1"/>
<text x="112.6" y="1021.2" text-anchor="middle" font-family="Liberation Sans, sans-serif" font-size="17.6">0</text>
<text x="218.5" y="1021.2" text-anchor="middle" font-family="Liberation Sans, sans-serif" font-size="17.6">10</text>
<text x="324.3" y="1021.2" text-anchor="middle" font-family="Liberation Sans, sans-serif" font-size="17.6">20</text>
<text x="430.2" y="1021.2" text-anchor="middle" font-family="Liberation Sans, sans-serif" font-size="17.6">30</text>
<text x="536.1" y="1021.2" text-anchor="middle" font-family="Liberation Sans, sans-serif" font-size="17.6">40</text>
<text x="641.9" y="1021.2" text-anchor="middle" font-family="Liberation Sans, sans-serif" font-size="17.6">50</text>
<text x="747.8" y="1021.2" text-anchor="middle" font-family="Liberation Sans, sans-serif" font-size="17.6">60</text>
<text x="91.3" y="990.8" text-anchor="end" font-family="Liberation Sans, sans-serif" font-size="17.6">0</text>
<text x="91.3" y="811.0" text-anchor="end" font-family="Liberation Sans, sans-serif" font-size="17.6">0.4</text>
<text x="91.3" y="631.1" text-anchor="end" font-family="Liberation Sans, sans-serif" font-size="17.6">0.8</text>
<text x="438.8" y="1067.6" text-anchor="middle" font-family="Liberation Serif, serif" font-size="38.1">B (T)</text>
<text x="437.8" y="1113.2" text-anchor="middle" font-family="Liberation Serif, serif" font-size="32">Fig. 6</text>
<text x="117.4" y="575" font-family="Liberation Serif, serif" font-size="35.6">(b)</text>
<text x="126" y="615.5" font-family="Liberation Serif, serif" font-size="35.6">N=400; θ=2π</text>
<text transform="translate(39.4 827.8) rotate(-90) scale(1.29 1)" font-family="Liberation Serif, serif" font-size="35">ω</text>
<text transform="translate(43.6 801.0) rotate(-90)" font-family="Liberation Serif, serif" font-size="25">a</text>
<text transform="translate(39.3 778.8) rotate(-90)" font-family="Liberation Serif, serif" font-size="37.5">(eV)</text>
<path d="M135.2 641.3L143.2 649.3L135.2 657.3L127.2 649.3Z" fill="#000000"/>
<path d="M167.2 642.8L174.9 656.0L159.4 656.0Z" fill="none" stroke="#000000" stroke-width="1.0"/>
<path d="M135.2 666.8L143.2 674.8L135.2 682.8L127.2 674.8Z" fill="#0000ff"/>
<path d="M167.2 668.3L174.9 681.5L159.4 681.5Z" fill="none" stroke="#0000ff" stroke-width="1.0"/>
<path d="M135.2 693.2L143.2 701.2L135.2 709.2L127.2 701.2Z" fill="#00ff00"/>
<path d="M167.2 694.7L174.9 707.9L159.4 707.9Z" fill="none" stroke="#00ff00" stroke-width="1.0"/>
<path d="M135.2 719.4L143.2 727.4L135.2 735.4L127.2 727.4Z" fill="#ff00ff"/>
<path d="M167.2 720.9L174.9 734.1L159.4 734.1Z" fill="none" stroke="#ff00ff" stroke-width="1.0"/>
<rect x="190.9" y="642.2" width="14.5" height="14.5" fill="none" stroke="#000000" stroke-width="1.2"/>
<text x="222.2" y="652.9" font-family="Liberation Serif, serif" font-size="20" xml:space="preserve">1</text>
<text transform="translate(232.6 641.7) scale(1.22 1)" font-family="Liberation Serif, serif" font-size="14.3">v</text>
<path d="M241.8 645.3H251.0M248.0 642.7L251.6 645.3L248.0 647.9" fill="none" stroke="#000" stroke-width="0.9" stroke-linejoin="miter"/>
<text x="254.9" y="652.9" font-family="Liberation Serif, serif" font-size="20" xml:space="preserve">1</text>
<text transform="translate(265.5 641.7) scale(1.22 1)" font-family="Liberation Serif, serif" font-size="14.3">c</text>
<text x="272.6" y="652.9" font-family="Liberation Serif, serif" font-size="20" xml:space="preserve">,</text>
<text x="283.2" y="652.9" font-family="Liberation Serif, serif" font-size="20" xml:space="preserve">0</text>
<path d="M299.3 645.3H308.1M305.1 642.7L308.7 645.3L305.1 647.9" fill="none" stroke="#000" stroke-width="0.9" stroke-linejoin="miter"/>
<text x="312.8" y="652.9" font-family="Liberation Serif, serif" font-size="20" xml:space="preserve">1</text>
<text transform="translate(322.8 641.7) scale(1.22 1)" font-family="Liberation Serif, serif" font-size="14.3">c</text>
<text x="330.1" y="652.9" font-family="Liberation Serif, serif" font-size="20" xml:space="preserve">,</text>
<text x="340.7" y="652.9" font-family="Liberation Serif, serif" font-size="20" xml:space="preserve">0</text>
<path d="M357.2 645.3H366.0M363.0 642.7L366.6 645.3L363.0 647.9" fill="none" stroke="#000" stroke-width="0.9" stroke-linejoin="miter"/>
<text x="370.6" y="652.9" font-family="Liberation Serif, serif" font-size="20" xml:space="preserve">2</text>
<text transform="translate(380.3 641.7) scale(1.22 1)" font-family="Liberation Serif, serif" font-size="14.3">c</text>
<text x="222.2" y="680.8" font-family="Liberation Serif, serif" font-size="20" xml:space="preserve">2</text>
<text transform="translate(233.5 669.6) scale(1.22 1)" font-family="Liberation Serif, serif" font-size="14.3">v</text>
<path d="M241.8 673.2H251.0M248.0 670.6L251.6 673.2L248.0 675.8" fill="none" stroke="#000" stroke-width="0.9" stroke-linejoin="miter"/>
<text x="255.1" y="680.8" font-family="Liberation Serif, serif" font-size="20" xml:space="preserve">2</text>
<text transform="translate(265.5 669.6) scale(1.22 1)" font-family="Liberation Serif, serif" font-size="14.3">c</text>
<text x="272.6" y="680.8" font-family="Liberation Serif, serif" font-size="20" xml:space="preserve">,</text>
<text x="283.7" y="680.8" font-family="Liberation Serif, serif" font-size="20" xml:space="preserve">1</text>
<text transform="translate(294.1 669.6) scale(1.22 1)" font-family="Liberation Serif, serif" font-size="14.3">v</text>
<path d="M303.1 673.2H312.1M309.1 670.6L312.7 673.2L309.1 675.8" fill="none" stroke="#000" stroke-width="0.9" stroke-linejoin="miter"/>
<text x="316.5" y="680.8" font-family="Liberation Serif, serif" font-size="20" xml:space="preserve">2</text>
<text transform="translate(326.5 669.6) scale(1.22 1)" font-family="Liberation Serif, serif" font-size="14.3">c</text>
<text x="222.2" y="707.7" font-family="Liberation Serif, serif" font-size="20" xml:space="preserve">3</text>
<text transform="translate(233.5 696.5) scale(1.22 1)" font-family="Liberation Serif, serif" font-size="14.3">v</text>
<path d="M241.8 700.1H251.0M248.0 697.5L251.6 700.1L248.0 702.7" fill="none" stroke="#000" stroke-width="0.9" stroke-linejoin="miter"/>
<text x="255.1" y="707.7" font-family="Liberation Serif, serif" font-size="20" xml:space="preserve">3</text>
<text transform="translate(265.5 696.5) scale(1.22 1)" font-family="Liberation Serif, serif" font-size="14.3">c</text>
<text x="272.6" y="707.7" font-family="Liberation Serif, serif" font-size="20" xml:space="preserve">,</text>
<text x="283.7" y="707.7" font-family="Liberation Serif, serif" font-size="20" xml:space="preserve">2</text>
<text transform="translate(294.1 696.5) scale(1.22 1)" font-family="Liberation Serif, serif" font-size="14.3">v</text>
<path d="M303.1 700.1H312.1M309.1 697.5L312.7 700.1L309.1 702.7" fill="none" stroke="#000" stroke-width="0.9" stroke-linejoin="miter"/>
<text x="316.5" y="707.7" font-family="Liberation Serif, serif" font-size="20" xml:space="preserve">3</text>
<text transform="translate(326.5 696.5) scale(1.22 1)" font-family="Liberation Serif, serif" font-size="14.3">c</text>
<text x="222.2" y="734.7" font-family="Liberation Serif, serif" font-size="20" xml:space="preserve">4</text>
<text transform="translate(233.5 723.5) scale(1.22 1)" font-family="Liberation Serif, serif" font-size="14.3">v</text>
<path d="M241.8 727.1H251.0M248.0 724.5L251.6 727.1L248.0 729.7" fill="none" stroke="#000" stroke-width="0.9" stroke-linejoin="miter"/>
<text x="255.1" y="734.7" font-family="Liberation Serif, serif" font-size="20" xml:space="preserve">4</text>
<text transform="translate(265.5 723.5) scale(1.22 1)" font-family="Liberation Serif, serif" font-size="14.3">c</text>
<text x="272.6" y="734.7" font-family="Liberation Serif, serif" font-size="20" xml:space="preserve">,</text>
<text x="283.7" y="734.7" font-family="Liberation Serif, serif" font-size="20" xml:space="preserve">3</text>
<text transform="translate(294.1 723.5) scale(1.22 1)" font-family="Liberation Serif, serif" font-size="14.3">v</text>
<path d="M303.1 727.1H312.1M309.1 724.5L312.7 727.1L309.1 729.7" fill="none" stroke="#000" stroke-width="0.9" stroke-linejoin="miter"/>
<text x="316.5" y="734.7" font-family="Liberation Serif, serif" font-size="20" xml:space="preserve">4</text>
<text transform="translate(326.5 723.5) scale(1.22 1)" font-family="Liberation Serif, serif" font-size="14.3">c</text>
</svg>
</body></html>
